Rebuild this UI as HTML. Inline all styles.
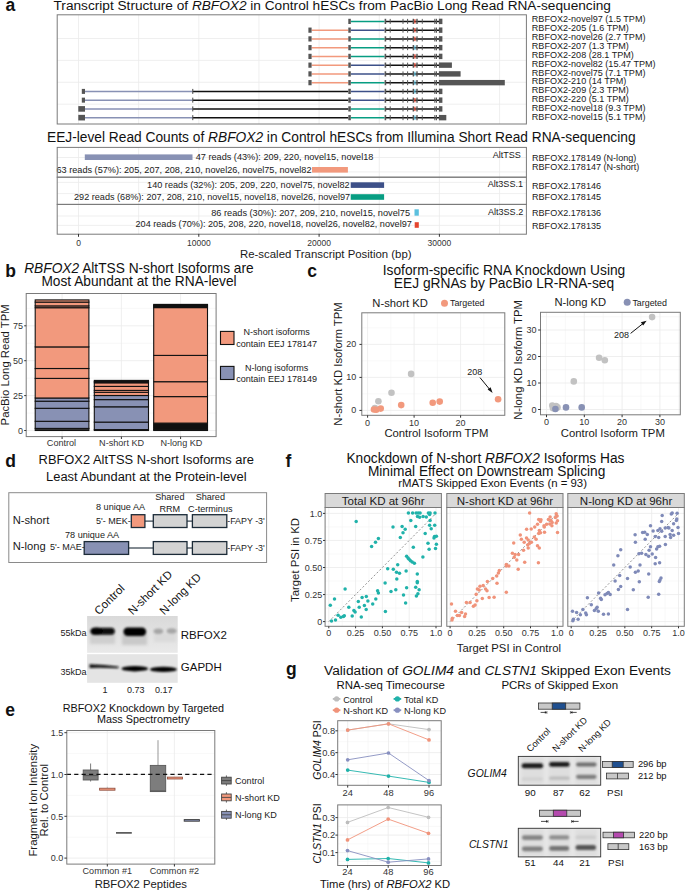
<!DOCTYPE html>
<html><head><meta charset="utf-8"><style>html,body{margin:0;padding:0;background:#fff;}svg{display:block;font-family:"Liberation Sans",sans-serif;}</style></head><body>
<svg width="685" height="891" viewBox="0 0 685 891">
<rect width="685" height="891" fill="#fff"/>
<text x="5.4" y="11" font-size="17.5" fill="#111" font-weight="bold">a</text>
<text x="53.5" y="10.3" font-size="13.66" fill="#111">Transcript Structure of <tspan font-style="italic">RBFOX2</tspan> in Control hESCs from PacBio Long Read RNA-sequencing</text>
<rect x="57.2" y="14.8" width="469.2" height="109.2" fill="#fff"/>
<line x1="78.5" y1="14.8" x2="78.5" y2="124" stroke="#ebebeb" stroke-width="0.8"/>
<line x1="138.65" y1="14.8" x2="138.65" y2="124" stroke="#ebebeb" stroke-width="0.8"/>
<line x1="198.8" y1="14.8" x2="198.8" y2="124" stroke="#ebebeb" stroke-width="0.8"/>
<line x1="258.95" y1="14.8" x2="258.95" y2="124" stroke="#ebebeb" stroke-width="0.8"/>
<line x1="319.1" y1="14.8" x2="319.1" y2="124" stroke="#ebebeb" stroke-width="0.8"/>
<line x1="379.25" y1="14.8" x2="379.25" y2="124" stroke="#ebebeb" stroke-width="0.8"/>
<line x1="439.4" y1="14.8" x2="439.4" y2="124" stroke="#ebebeb" stroke-width="0.8"/>
<line x1="499.55" y1="14.8" x2="499.55" y2="124" stroke="#ebebeb" stroke-width="0.8"/>
<line x1="57.2" y1="38.5" x2="526.4" y2="38.5" stroke="#ebebeb" stroke-width="0.8"/>
<line x1="57.2" y1="60.4" x2="526.4" y2="60.4" stroke="#ebebeb" stroke-width="0.8"/>
<line x1="57.2" y1="82.3" x2="526.4" y2="82.3" stroke="#ebebeb" stroke-width="0.8"/>
<line x1="57.2" y1="104.2" x2="526.4" y2="104.2" stroke="#ebebeb" stroke-width="0.8"/>
<line x1="350.8" y1="21.4" x2="384.6" y2="21.4" stroke="#079d82" stroke-width="1.5"/>
<line x1="386" y1="21.4" x2="439" y2="21.4" stroke="#111" stroke-width="1.5"/>
<rect x="348.3" y="18.8" width="2.5" height="5.2" fill="#555"/>
<rect x="384.6" y="18.8" width="1.6" height="5.2" fill="#555"/>
<rect x="389.7" y="18.9" width="1" height="5" fill="#555"/>
<rect x="402.5" y="18.9" width="1" height="5" fill="#555"/>
<rect x="407.1" y="18.9" width="1" height="5" fill="#555"/>
<rect x="412.6" y="18.8" width="1.4" height="5.2" fill="#555"/>
<rect x="414.3" y="19.2" width="1.2" height="4.4" fill="#e5452f"/>
<rect x="416.3" y="18.8" width="1.4" height="5.2" fill="#555"/>
<rect x="421.8" y="18.9" width="0.9" height="5" fill="#555"/>
<rect x="434.3" y="18.8" width="1.1" height="5.2" fill="#555"/>
<rect x="435.9" y="18.8" width="1.1" height="5.2" fill="#555"/>
<rect x="438.9" y="18.7" width="3.5" height="5.4" fill="#555"/>
<line x1="311.6" y1="30.15" x2="348.3" y2="30.15" stroke="#f2997d" stroke-width="1.5"/>
<line x1="350.8" y1="30.15" x2="384.6" y2="30.15" stroke="#3d5088" stroke-width="1.5"/>
<line x1="386" y1="30.15" x2="439" y2="30.15" stroke="#111" stroke-width="1.5"/>
<rect x="308.4" y="27.55" width="3.2" height="5.2" fill="#555"/>
<rect x="348.3" y="27.55" width="2.5" height="5.2" fill="#555"/>
<rect x="384.6" y="27.55" width="1.6" height="5.2" fill="#555"/>
<rect x="389.7" y="27.65" width="1" height="5" fill="#555"/>
<rect x="402.5" y="27.65" width="1" height="5" fill="#555"/>
<rect x="407.1" y="27.65" width="1" height="5" fill="#555"/>
<rect x="412.6" y="27.55" width="1.4" height="5.2" fill="#555"/>
<rect x="414.3" y="27.95" width="1.2" height="4.4" fill="#e5452f"/>
<rect x="416.3" y="27.55" width="1.4" height="5.2" fill="#555"/>
<rect x="421.8" y="27.65" width="0.9" height="5" fill="#555"/>
<rect x="434.3" y="27.55" width="1.1" height="5.2" fill="#555"/>
<rect x="435.9" y="27.55" width="1.1" height="5.2" fill="#555"/>
<rect x="438.9" y="27.45" width="3.5" height="5.4" fill="#555"/>
<line x1="311.6" y1="38.9" x2="348.3" y2="38.9" stroke="#f2997d" stroke-width="1.5"/>
<line x1="350.8" y1="38.9" x2="384.6" y2="38.9" stroke="#079d82" stroke-width="1.5"/>
<line x1="386" y1="38.9" x2="439" y2="38.9" stroke="#111" stroke-width="1.5"/>
<rect x="308.4" y="36.3" width="3.2" height="5.2" fill="#555"/>
<rect x="348.3" y="36.3" width="2.5" height="5.2" fill="#555"/>
<rect x="384.6" y="36.3" width="1.6" height="5.2" fill="#555"/>
<rect x="389.7" y="36.4" width="1" height="5" fill="#555"/>
<rect x="402.5" y="36.4" width="1" height="5" fill="#555"/>
<rect x="407.1" y="36.4" width="1" height="5" fill="#555"/>
<rect x="412.6" y="36.3" width="1.4" height="5.2" fill="#555"/>
<rect x="414.3" y="36.7" width="1.2" height="4.4" fill="#e5452f"/>
<rect x="416.3" y="36.3" width="1.4" height="5.2" fill="#555"/>
<rect x="421.8" y="36.4" width="0.9" height="5" fill="#555"/>
<rect x="434.3" y="36.3" width="1.1" height="5.2" fill="#555"/>
<rect x="435.9" y="36.3" width="1.1" height="5.2" fill="#555"/>
<rect x="438.9" y="36.2" width="3.5" height="5.4" fill="#555"/>
<line x1="311.6" y1="47.65" x2="348.3" y2="47.65" stroke="#f2997d" stroke-width="1.5"/>
<line x1="350.8" y1="47.65" x2="384.6" y2="47.65" stroke="#079d82" stroke-width="1.5"/>
<line x1="386" y1="47.65" x2="439" y2="47.65" stroke="#111" stroke-width="1.5"/>
<rect x="308.4" y="45.05" width="3.2" height="5.2" fill="#555"/>
<rect x="348.3" y="45.05" width="2.5" height="5.2" fill="#555"/>
<rect x="384.6" y="45.05" width="1.6" height="5.2" fill="#555"/>
<rect x="389.7" y="45.15" width="1" height="5" fill="#555"/>
<rect x="402.5" y="45.15" width="1" height="5" fill="#555"/>
<rect x="407.1" y="45.15" width="1" height="5" fill="#555"/>
<rect x="412.6" y="45.05" width="1.4" height="5.2" fill="#555"/>
<rect x="414.3" y="45.45" width="1.2" height="4.4" fill="#5bc0de"/>
<rect x="416.3" y="45.05" width="1.4" height="5.2" fill="#555"/>
<rect x="421.8" y="45.15" width="0.9" height="5" fill="#555"/>
<rect x="434.3" y="45.05" width="1.1" height="5.2" fill="#555"/>
<rect x="435.9" y="45.05" width="1.1" height="5.2" fill="#555"/>
<rect x="438.9" y="44.95" width="3.5" height="5.4" fill="#555"/>
<line x1="311.6" y1="56.4" x2="348.3" y2="56.4" stroke="#f2997d" stroke-width="1.5"/>
<line x1="350.8" y1="56.4" x2="384.6" y2="56.4" stroke="#079d82" stroke-width="1.5"/>
<line x1="386" y1="56.4" x2="439" y2="56.4" stroke="#111" stroke-width="1.5"/>
<rect x="308.4" y="53.8" width="3.2" height="5.2" fill="#555"/>
<rect x="348.3" y="53.8" width="2.5" height="5.2" fill="#555"/>
<rect x="384.6" y="53.8" width="1.6" height="5.2" fill="#555"/>
<rect x="389.7" y="53.9" width="1" height="5" fill="#555"/>
<rect x="402.5" y="53.9" width="1" height="5" fill="#555"/>
<rect x="407.1" y="53.9" width="1" height="5" fill="#555"/>
<rect x="412.6" y="53.8" width="1.4" height="5.2" fill="#555"/>
<rect x="414.3" y="54.2" width="1.2" height="4.4" fill="#e5452f"/>
<rect x="416.3" y="53.8" width="1.4" height="5.2" fill="#555"/>
<rect x="421.8" y="53.9" width="0.9" height="5" fill="#555"/>
<rect x="434.3" y="53.8" width="1.1" height="5.2" fill="#555"/>
<rect x="435.9" y="53.8" width="1.1" height="5.2" fill="#555"/>
<rect x="438.9" y="53.7" width="3.5" height="5.4" fill="#555"/>
<line x1="311.6" y1="65.15" x2="348.3" y2="65.15" stroke="#f2997d" stroke-width="1.5"/>
<line x1="350.8" y1="65.15" x2="384.6" y2="65.15" stroke="#3d5088" stroke-width="1.5"/>
<line x1="386" y1="65.15" x2="439" y2="65.15" stroke="#111" stroke-width="1.5"/>
<rect x="308.4" y="62.55" width="3.2" height="5.2" fill="#555"/>
<rect x="348.3" y="62.55" width="2.5" height="5.2" fill="#555"/>
<rect x="384.6" y="62.55" width="1.6" height="5.2" fill="#555"/>
<rect x="389.7" y="62.65" width="1" height="5" fill="#555"/>
<rect x="402.5" y="62.65" width="1" height="5" fill="#555"/>
<rect x="407.1" y="62.65" width="1" height="5" fill="#555"/>
<rect x="412.6" y="62.55" width="1.4" height="5.2" fill="#555"/>
<rect x="414.3" y="62.95" width="1.2" height="4.4" fill="#e5452f"/>
<rect x="416.3" y="62.55" width="1.4" height="5.2" fill="#555"/>
<rect x="421.8" y="62.65" width="0.9" height="5" fill="#555"/>
<rect x="434.3" y="62.55" width="1.1" height="5.2" fill="#555"/>
<rect x="435.9" y="62.55" width="1.1" height="5.2" fill="#555"/>
<rect x="438.9" y="62.45" width="13" height="5.4" fill="#555"/>
<line x1="311.6" y1="73.9" x2="348.3" y2="73.9" stroke="#f2997d" stroke-width="1.5"/>
<line x1="350.8" y1="73.9" x2="384.6" y2="73.9" stroke="#3d5088" stroke-width="1.5"/>
<line x1="386" y1="73.9" x2="439" y2="73.9" stroke="#111" stroke-width="1.5"/>
<rect x="308.4" y="71.3" width="3.2" height="5.2" fill="#555"/>
<rect x="348.3" y="71.3" width="2.5" height="5.2" fill="#555"/>
<rect x="384.6" y="71.3" width="1.6" height="5.2" fill="#555"/>
<rect x="389.7" y="71.4" width="1" height="5" fill="#555"/>
<rect x="402.5" y="71.4" width="1" height="5" fill="#555"/>
<rect x="407.1" y="71.4" width="1" height="5" fill="#555"/>
<rect x="412.6" y="71.3" width="1.4" height="5.2" fill="#555"/>
<rect x="414.3" y="71.7" width="1.2" height="4.4" fill="#5bc0de"/>
<rect x="416.3" y="71.3" width="1.4" height="5.2" fill="#555"/>
<rect x="421.8" y="71.4" width="0.9" height="5" fill="#555"/>
<rect x="434.3" y="71.3" width="1.1" height="5.2" fill="#555"/>
<rect x="435.9" y="71.3" width="1.1" height="5.2" fill="#555"/>
<rect x="438.9" y="71.2" width="21.7" height="5.4" fill="#555"/>
<line x1="311.6" y1="82.65" x2="348.3" y2="82.65" stroke="#f2997d" stroke-width="1.5"/>
<line x1="350.8" y1="82.65" x2="384.6" y2="82.65" stroke="#079d82" stroke-width="1.5"/>
<line x1="386" y1="82.65" x2="439" y2="82.65" stroke="#111" stroke-width="1.5"/>
<rect x="308.4" y="80.05" width="3.2" height="5.2" fill="#555"/>
<rect x="348.3" y="80.05" width="2.5" height="5.2" fill="#555"/>
<rect x="384.6" y="80.05" width="1.6" height="5.2" fill="#555"/>
<rect x="389.7" y="80.15" width="1" height="5" fill="#555"/>
<rect x="402.5" y="80.15" width="1" height="5" fill="#555"/>
<rect x="407.1" y="80.15" width="1" height="5" fill="#555"/>
<rect x="412.6" y="80.05" width="1.4" height="5.2" fill="#555"/>
<rect x="414.3" y="80.45" width="1.2" height="4.4" fill="#5bc0de"/>
<rect x="416.3" y="80.05" width="1.4" height="5.2" fill="#555"/>
<rect x="421.8" y="80.15" width="0.9" height="5" fill="#555"/>
<rect x="434.3" y="80.05" width="1.1" height="5.2" fill="#555"/>
<rect x="435.9" y="80.05" width="1.1" height="5.2" fill="#555"/>
<rect x="438.9" y="79.95" width="65.9" height="5.4" fill="#555"/>
<line x1="85" y1="91.4" x2="192.6" y2="91.4" stroke="#8891b4" stroke-width="1.5"/>
<line x1="192.6" y1="91.4" x2="348.3" y2="91.4" stroke="#111" stroke-width="1.5"/>
<line x1="350.8" y1="91.4" x2="384.6" y2="91.4" stroke="#3d5088" stroke-width="1.5"/>
<line x1="386" y1="91.4" x2="439" y2="91.4" stroke="#111" stroke-width="1.5"/>
<rect x="81.8" y="88.9" width="3.2" height="5" fill="#555"/>
<rect x="192.2" y="88.9" width="1.1" height="5" fill="#555"/>
<rect x="348.3" y="88.8" width="2.5" height="5.2" fill="#555"/>
<rect x="384.6" y="88.8" width="1.6" height="5.2" fill="#555"/>
<rect x="389.7" y="88.9" width="1" height="5" fill="#555"/>
<rect x="402.5" y="88.9" width="1" height="5" fill="#555"/>
<rect x="407.1" y="88.9" width="1" height="5" fill="#555"/>
<rect x="412.6" y="88.8" width="1.4" height="5.2" fill="#555"/>
<rect x="414.3" y="89.2" width="1.2" height="4.4" fill="#5bc0de"/>
<rect x="416.3" y="88.8" width="1.4" height="5.2" fill="#555"/>
<rect x="421.8" y="88.9" width="0.9" height="5" fill="#555"/>
<rect x="434.3" y="88.8" width="1.1" height="5.2" fill="#555"/>
<rect x="435.9" y="88.8" width="1.1" height="5.2" fill="#555"/>
<rect x="438.9" y="88.7" width="3.5" height="5.4" fill="#555"/>
<line x1="85" y1="100.15" x2="192.6" y2="100.15" stroke="#8891b4" stroke-width="1.5"/>
<line x1="192.6" y1="100.15" x2="348.3" y2="100.15" stroke="#111" stroke-width="1.5"/>
<line x1="350.8" y1="100.15" x2="384.6" y2="100.15" stroke="#3d5088" stroke-width="1.5"/>
<line x1="386" y1="100.15" x2="439" y2="100.15" stroke="#111" stroke-width="1.5"/>
<rect x="81.8" y="97.65" width="3.2" height="5" fill="#555"/>
<rect x="192.2" y="97.65" width="1.1" height="5" fill="#555"/>
<rect x="348.3" y="97.55" width="2.5" height="5.2" fill="#555"/>
<rect x="384.6" y="97.55" width="1.6" height="5.2" fill="#555"/>
<rect x="389.7" y="97.65" width="1" height="5" fill="#555"/>
<rect x="402.5" y="97.65" width="1" height="5" fill="#555"/>
<rect x="407.1" y="97.65" width="1" height="5" fill="#555"/>
<rect x="412.6" y="97.55" width="1.4" height="5.2" fill="#555"/>
<rect x="414.3" y="97.95" width="1.2" height="4.4" fill="#e5452f"/>
<rect x="416.3" y="97.55" width="1.4" height="5.2" fill="#555"/>
<rect x="421.8" y="97.65" width="0.9" height="5" fill="#555"/>
<rect x="434.3" y="97.55" width="1.1" height="5.2" fill="#555"/>
<rect x="435.9" y="97.55" width="1.1" height="5.2" fill="#555"/>
<rect x="438.9" y="97.45" width="3.5" height="5.4" fill="#555"/>
<line x1="85" y1="108.9" x2="192.6" y2="108.9" stroke="#8891b4" stroke-width="1.5"/>
<line x1="192.6" y1="108.9" x2="348.3" y2="108.9" stroke="#111" stroke-width="1.5"/>
<line x1="350.8" y1="108.9" x2="384.6" y2="108.9" stroke="#079d82" stroke-width="1.5"/>
<line x1="386" y1="108.9" x2="439" y2="108.9" stroke="#111" stroke-width="1.5"/>
<rect x="78.3" y="106.1" width="6.7" height="5.6" fill="#555"/>
<rect x="192.2" y="106.4" width="1.1" height="5" fill="#555"/>
<rect x="348.3" y="106.3" width="2.5" height="5.2" fill="#555"/>
<rect x="384.6" y="106.3" width="1.6" height="5.2" fill="#555"/>
<rect x="389.7" y="106.4" width="1" height="5" fill="#555"/>
<rect x="402.5" y="106.4" width="1" height="5" fill="#555"/>
<rect x="407.1" y="106.4" width="1" height="5" fill="#555"/>
<rect x="412.6" y="106.3" width="1.4" height="5.2" fill="#555"/>
<rect x="414.3" y="106.7" width="1.2" height="4.4" fill="#e5452f"/>
<rect x="416.3" y="106.3" width="1.4" height="5.2" fill="#555"/>
<rect x="421.8" y="106.4" width="0.9" height="5" fill="#555"/>
<rect x="434.3" y="106.3" width="1.1" height="5.2" fill="#555"/>
<rect x="435.9" y="106.3" width="1.1" height="5.2" fill="#555"/>
<rect x="438.9" y="106.2" width="3.5" height="5.4" fill="#555"/>
<line x1="85" y1="117.65" x2="192.6" y2="117.65" stroke="#8891b4" stroke-width="1.5"/>
<line x1="192.6" y1="117.65" x2="348.3" y2="117.65" stroke="#111" stroke-width="1.5"/>
<line x1="350.8" y1="117.65" x2="384.6" y2="117.65" stroke="#079d82" stroke-width="1.5"/>
<line x1="386" y1="117.65" x2="439" y2="117.65" stroke="#111" stroke-width="1.5"/>
<rect x="78.3" y="114.85" width="6.7" height="5.6" fill="#555"/>
<rect x="192.2" y="115.15" width="1.1" height="5" fill="#555"/>
<rect x="348.3" y="115.05" width="2.5" height="5.2" fill="#555"/>
<rect x="384.6" y="115.05" width="1.6" height="5.2" fill="#555"/>
<rect x="389.7" y="115.15" width="1" height="5" fill="#555"/>
<rect x="402.5" y="115.15" width="1" height="5" fill="#555"/>
<rect x="407.1" y="115.15" width="1" height="5" fill="#555"/>
<rect x="412.6" y="115.05" width="1.4" height="5.2" fill="#555"/>
<rect x="414.3" y="115.45" width="1.2" height="4.4" fill="#5bc0de"/>
<rect x="416.3" y="115.05" width="1.4" height="5.2" fill="#555"/>
<rect x="421.8" y="115.15" width="0.9" height="5" fill="#555"/>
<rect x="434.3" y="115.05" width="1.1" height="5.2" fill="#555"/>
<rect x="435.9" y="115.05" width="1.1" height="5.2" fill="#555"/>
<rect x="438.9" y="114.95" width="7.4" height="5.4" fill="#555"/>
<rect x="57.2" y="14.8" width="469.2" height="109.2" fill="none" stroke="#7a7a7a" stroke-width="1"/>
<text x="531.8" y="21.8" font-size="9.07" fill="#1a1a1a">RBFOX2-novel97 (1.5 TPM)</text>
<text x="531.8" y="30.75" font-size="9.07" fill="#1a1a1a">RBFOX2-205 (1.6 TPM)</text>
<text x="531.8" y="39.7" font-size="9.07" fill="#1a1a1a">RBFOX2-novel26 (2.7 TPM)</text>
<text x="531.8" y="48.65" font-size="9.07" fill="#1a1a1a">RBFOX2-207 (1.3 TPM)</text>
<text x="531.8" y="57.6" font-size="9.07" fill="#1a1a1a">RBFOX2-208 (28.1 TPM)</text>
<text x="531.8" y="66.55" font-size="9.07" fill="#1a1a1a">RBFOX2-novel82 (15.47 TPM)</text>
<text x="531.8" y="75.5" font-size="9.07" fill="#1a1a1a">RBFOX2-novel75 (7.1 TPM)</text>
<text x="531.8" y="84.45" font-size="9.07" fill="#1a1a1a">RBFOX2-210 (14 TPM)</text>
<text x="531.8" y="93.4" font-size="9.07" fill="#1a1a1a">RBFOX2-209 (2.3 TPM)</text>
<text x="531.8" y="102.35" font-size="9.07" fill="#1a1a1a">RBFOX2-220 (5.1 TPM)</text>
<text x="531.8" y="111.3" font-size="9.07" fill="#1a1a1a">RBFOX2-novel18 (9.3 TPM)</text>
<text x="531.8" y="120.25" font-size="9.07" fill="#1a1a1a">RBFOX2-novel15 (5.1 TPM)</text>
<text x="47" y="142" font-size="13.74" fill="#111">EEJ-level Read Counts of <tspan font-style="italic">RBFOX2</tspan> in Control hESCs from Illumina Short Read RNA-sequencing</text>
<rect x="57.2" y="147.4" width="469.2" height="29.8" fill="#fff"/>
<line x1="78.5" y1="147.4" x2="78.5" y2="177.2" stroke="#ebebeb" stroke-width="0.8"/>
<line x1="138.65" y1="147.4" x2="138.65" y2="177.2" stroke="#ebebeb" stroke-width="0.8"/>
<line x1="198.8" y1="147.4" x2="198.8" y2="177.2" stroke="#ebebeb" stroke-width="0.8"/>
<line x1="258.95" y1="147.4" x2="258.95" y2="177.2" stroke="#ebebeb" stroke-width="0.8"/>
<line x1="319.1" y1="147.4" x2="319.1" y2="177.2" stroke="#ebebeb" stroke-width="0.8"/>
<line x1="379.25" y1="147.4" x2="379.25" y2="177.2" stroke="#ebebeb" stroke-width="0.8"/>
<line x1="439.4" y1="147.4" x2="439.4" y2="177.2" stroke="#ebebeb" stroke-width="0.8"/>
<line x1="499.55" y1="147.4" x2="499.55" y2="177.2" stroke="#ebebeb" stroke-width="0.8"/>
<rect x="57.2" y="177.2" width="469.2" height="27.2" fill="#fff"/>
<line x1="78.5" y1="177.2" x2="78.5" y2="204.4" stroke="#ebebeb" stroke-width="0.8"/>
<line x1="138.65" y1="177.2" x2="138.65" y2="204.4" stroke="#ebebeb" stroke-width="0.8"/>
<line x1="198.8" y1="177.2" x2="198.8" y2="204.4" stroke="#ebebeb" stroke-width="0.8"/>
<line x1="258.95" y1="177.2" x2="258.95" y2="204.4" stroke="#ebebeb" stroke-width="0.8"/>
<line x1="319.1" y1="177.2" x2="319.1" y2="204.4" stroke="#ebebeb" stroke-width="0.8"/>
<line x1="379.25" y1="177.2" x2="379.25" y2="204.4" stroke="#ebebeb" stroke-width="0.8"/>
<line x1="439.4" y1="177.2" x2="439.4" y2="204.4" stroke="#ebebeb" stroke-width="0.8"/>
<line x1="499.55" y1="177.2" x2="499.55" y2="204.4" stroke="#ebebeb" stroke-width="0.8"/>
<rect x="57.2" y="204.4" width="469.2" height="29.8" fill="#fff"/>
<line x1="78.5" y1="204.4" x2="78.5" y2="234.2" stroke="#ebebeb" stroke-width="0.8"/>
<line x1="138.65" y1="204.4" x2="138.65" y2="234.2" stroke="#ebebeb" stroke-width="0.8"/>
<line x1="198.8" y1="204.4" x2="198.8" y2="234.2" stroke="#ebebeb" stroke-width="0.8"/>
<line x1="258.95" y1="204.4" x2="258.95" y2="234.2" stroke="#ebebeb" stroke-width="0.8"/>
<line x1="319.1" y1="204.4" x2="319.1" y2="234.2" stroke="#ebebeb" stroke-width="0.8"/>
<line x1="379.25" y1="204.4" x2="379.25" y2="234.2" stroke="#ebebeb" stroke-width="0.8"/>
<line x1="439.4" y1="204.4" x2="439.4" y2="234.2" stroke="#ebebeb" stroke-width="0.8"/>
<line x1="499.55" y1="204.4" x2="499.55" y2="234.2" stroke="#ebebeb" stroke-width="0.8"/>
<line x1="57.2" y1="157.5" x2="526.4" y2="157.5" stroke="#ebebeb" stroke-width="0.8"/>
<line x1="57.2" y1="171.9" x2="526.4" y2="171.9" stroke="#ebebeb" stroke-width="0.8"/>
<line x1="57.2" y1="182.4" x2="526.4" y2="182.4" stroke="#ebebeb" stroke-width="0.8"/>
<line x1="57.2" y1="193.6" x2="526.4" y2="193.6" stroke="#ebebeb" stroke-width="0.8"/>
<line x1="57.2" y1="216" x2="526.4" y2="216" stroke="#ebebeb" stroke-width="0.8"/>
<line x1="57.2" y1="225.4" x2="526.4" y2="225.4" stroke="#ebebeb" stroke-width="0.8"/>
<rect x="84.8" y="154.4" width="107.7" height="5.6" fill="#8891b4"/>
<rect x="312" y="167" width="35.9" height="5.6" fill="#f2997d"/>
<rect x="350.7" y="182.3" width="33.4" height="5.6" fill="#3d5088"/>
<rect x="350.7" y="194.2" width="33.4" height="5.6" fill="#079d82"/>
<rect x="414.5" y="209.3" width="4.3" height="6.4" fill="#5bc0de"/>
<rect x="414.7" y="222.2" width="4.1" height="5.6" fill="#e5452f"/>
<text x="195.7" y="160.1" font-size="9.07" fill="#1a1a1a" textLength="177.7" lengthAdjust="spacingAndGlyphs">47 reads (43%): 209, 220, novel15, novel18</text>
<text x="56.5" y="172.6" font-size="9.07" fill="#1a1a1a" textLength="255" lengthAdjust="spacingAndGlyphs">63 reads (57%): 205, 207, 208, 210, novel26, novel75, novel82</text>
<text x="147.1" y="187.7" font-size="9.07" fill="#1a1a1a" textLength="202.5" lengthAdjust="spacingAndGlyphs">140 reads (32%): 205, 209, 220, novel75, novel82</text>
<text x="74" y="200" font-size="9.07" fill="#1a1a1a" textLength="276.1" lengthAdjust="spacingAndGlyphs">292 reads (68%): 207, 208, 210, novel15, novel18, novel26, novel97</text>
<text x="211.2" y="215.6" font-size="9.07" fill="#1a1a1a" textLength="198.9" lengthAdjust="spacingAndGlyphs">86 reads (30%): 207, 209, 210, novel15, novel75</text>
<text x="135.5" y="227.3" font-size="9.07" fill="#1a1a1a" textLength="276.3" lengthAdjust="spacingAndGlyphs">204 reads (70%): 205, 208, 220, novel18, novel26, novel82, novel97</text>
<rect x="57.2" y="147.4" width="469.2" height="29.8" fill="none" stroke="#7a7a7a" stroke-width="1"/>
<text x="520.9" y="157.7" font-size="9.07" fill="#1a1a1a" text-anchor="end">AltTSS</text>
<rect x="57.2" y="177.2" width="469.2" height="27.2" fill="none" stroke="#7a7a7a" stroke-width="1"/>
<text x="523" y="186.8" font-size="9.07" fill="#1a1a1a" text-anchor="end">Alt3SS.1</text>
<rect x="57.2" y="204.4" width="469.2" height="29.8" fill="none" stroke="#7a7a7a" stroke-width="1"/>
<text x="523.2" y="214.5" font-size="9.07" fill="#1a1a1a" text-anchor="end">Alt3SS.2</text>
<line x1="78.5" y1="233.9" x2="78.5" y2="236.8" stroke="#333" stroke-width="1"/>
<text x="78.5" y="246.4" font-size="8.5" fill="#333" text-anchor="middle">0</text>
<line x1="198.8" y1="233.9" x2="198.8" y2="236.8" stroke="#333" stroke-width="1"/>
<text x="198.8" y="246.4" font-size="8.5" fill="#333" text-anchor="middle">10000</text>
<line x1="319.1" y1="233.9" x2="319.1" y2="236.8" stroke="#333" stroke-width="1"/>
<text x="319.1" y="246.4" font-size="8.5" fill="#333" text-anchor="middle">20000</text>
<line x1="439.4" y1="233.9" x2="439.4" y2="236.8" stroke="#333" stroke-width="1"/>
<text x="439.4" y="246.4" font-size="8.5" fill="#333" text-anchor="middle">30000</text>
<text x="325.8" y="257.8" font-size="11.4" fill="#1a1a1a" text-anchor="middle">Re-scaled Transcript Position (bp)</text>
<text x="532" y="161" font-size="9.07" fill="#1a1a1a">RBFOX2.178149 (N-long)</text>
<text x="532" y="170.2" font-size="9.07" fill="#1a1a1a">RBFOX2.178147 (N-short)</text>
<text x="532" y="189.1" font-size="9.07" fill="#1a1a1a">RBFOX2.178146</text>
<text x="532" y="199.6" font-size="9.07" fill="#1a1a1a">RBFOX2.178145</text>
<text x="532" y="216.2" font-size="9.07" fill="#1a1a1a">RBFOX2.178136</text>
<text x="532" y="228.8" font-size="9.07" fill="#1a1a1a">RBFOX2.178135</text>
<text x="5.3" y="277.4" font-size="17.5" fill="#111" font-weight="bold">b</text>
<text x="24.2" y="272.9" font-size="13.72" fill="#111"><tspan font-style="italic">RBFOX2</tspan> AltTSS N-short Isoforms are</text>
<text x="139" y="286" font-size="13.72" fill="#111" text-anchor="middle">Most Abundant at the RNA-level</text>
<rect x="26.2" y="293.5" width="189.9" height="143.1" fill="#fff"/>
<line x1="26.2" y1="413.05" x2="216.1" y2="413.05" stroke="#f2f2f2" stroke-width="0.6"/>
<line x1="26.2" y1="378.15" x2="216.1" y2="378.15" stroke="#f2f2f2" stroke-width="0.6"/>
<line x1="26.2" y1="343.25" x2="216.1" y2="343.25" stroke="#f2f2f2" stroke-width="0.6"/>
<line x1="26.2" y1="308.35" x2="216.1" y2="308.35" stroke="#f2f2f2" stroke-width="0.6"/>
<line x1="26.2" y1="430.5" x2="216.1" y2="430.5" stroke="#ebebeb" stroke-width="0.8"/>
<line x1="26.2" y1="395.6" x2="216.1" y2="395.6" stroke="#ebebeb" stroke-width="0.8"/>
<line x1="26.2" y1="360.7" x2="216.1" y2="360.7" stroke="#ebebeb" stroke-width="0.8"/>
<line x1="26.2" y1="325.8" x2="216.1" y2="325.8" stroke="#ebebeb" stroke-width="0.8"/>
<line x1="62.1" y1="293.5" x2="62.1" y2="436.6" stroke="#ebebeb" stroke-width="0.8"/>
<line x1="121.4" y1="293.5" x2="121.4" y2="436.6" stroke="#ebebeb" stroke-width="0.8"/>
<line x1="180.6" y1="293.5" x2="180.6" y2="436.6" stroke="#ebebeb" stroke-width="0.8"/>
<rect x="35.2" y="428.4" width="53.7" height="2.1" fill="#333" stroke="#111" stroke-width="1.1"/>
<rect x="35.2" y="421.3" width="53.7" height="7.1" fill="#8891b4" stroke="#111" stroke-width="1.1"/>
<rect x="35.2" y="408.3" width="53.7" height="13" fill="#8891b4" stroke="#111" stroke-width="1.1"/>
<rect x="35.2" y="401.2" width="53.7" height="7.1" fill="#8891b4" stroke="#111" stroke-width="1.1"/>
<rect x="35.2" y="398" width="53.7" height="3.2" fill="#8891b4" stroke="#111" stroke-width="1.1"/>
<rect x="35.2" y="378.4" width="53.7" height="19.6" fill="#f2997d" stroke="#111" stroke-width="1.1"/>
<rect x="35.2" y="368.5" width="53.7" height="9.9" fill="#f2997d" stroke="#111" stroke-width="1.1"/>
<rect x="35.2" y="346.9" width="53.7" height="21.6" fill="#f2997d" stroke="#111" stroke-width="1.1"/>
<rect x="35.2" y="307.7" width="53.7" height="39.2" fill="#f2997d" stroke="#111" stroke-width="1.1"/>
<rect x="35.2" y="305.9" width="53.7" height="1.8" fill="#f2997d" stroke="#111" stroke-width="1.1"/>
<rect x="35.2" y="302.1" width="53.7" height="3.8" fill="#f2997d" stroke="#111" stroke-width="1.1"/>
<rect x="35.2" y="299.9" width="53.7" height="2.2" fill="#f2997d" stroke="#111" stroke-width="1.1"/>
<rect x="94.3" y="429.6" width="54.2" height="0.9" fill="#222" stroke="#111" stroke-width="1.1"/>
<rect x="94.3" y="422.1" width="54.2" height="7.5" fill="#8891b4" stroke="#111" stroke-width="1.1"/>
<rect x="94.3" y="406.8" width="54.2" height="15.3" fill="#8891b4" stroke="#111" stroke-width="1.1"/>
<rect x="94.3" y="399.6" width="54.2" height="7.2" fill="#8891b4" stroke="#111" stroke-width="1.1"/>
<rect x="94.3" y="395.5" width="54.2" height="4.1" fill="#8891b4" stroke="#111" stroke-width="1.1"/>
<rect x="94.3" y="392.3" width="54.2" height="3.2" fill="#f2997d" stroke="#111" stroke-width="1.1"/>
<rect x="94.3" y="390.4" width="54.2" height="1.9" fill="#f2997d" stroke="#111" stroke-width="1.1"/>
<rect x="94.3" y="386.4" width="54.2" height="4" fill="#f2997d" stroke="#111" stroke-width="1.1"/>
<rect x="94.3" y="382.8" width="54.2" height="3.6" fill="#f2997d" stroke="#111" stroke-width="1.1"/>
<rect x="94.3" y="381.6" width="54.2" height="1.2" fill="#222" stroke="#111" stroke-width="1.1"/>
<rect x="94.3" y="380.4" width="54.2" height="1.2" fill="#222" stroke="#111" stroke-width="1.1"/>
<rect x="153.7" y="429.2" width="53.8" height="1.3" fill="#444" stroke="#111" stroke-width="1.1"/>
<rect x="153.7" y="427" width="53.8" height="2.2" fill="#111" stroke="#111" stroke-width="1.1"/>
<rect x="153.7" y="425" width="53.8" height="2" fill="#111" stroke="#111" stroke-width="1.1"/>
<rect x="153.7" y="423.1" width="53.8" height="1.9" fill="#111" stroke="#111" stroke-width="1.1"/>
<rect x="153.7" y="396.6" width="53.8" height="26.5" fill="#f2997d" stroke="#111" stroke-width="1.1"/>
<rect x="153.7" y="381.7" width="53.8" height="14.9" fill="#f2997d" stroke="#111" stroke-width="1.1"/>
<rect x="153.7" y="355.4" width="53.8" height="26.3" fill="#f2997d" stroke="#111" stroke-width="1.1"/>
<rect x="153.7" y="307.6" width="53.8" height="47.8" fill="#f2997d" stroke="#111" stroke-width="1.1"/>
<rect x="153.7" y="306.4" width="53.8" height="1.2" fill="#111" stroke="#111" stroke-width="1.1"/>
<rect x="153.7" y="305.4" width="53.8" height="1" fill="#111" stroke="#111" stroke-width="1.1"/>
<rect x="153.7" y="304.4" width="53.8" height="1" fill="#111" stroke="#111" stroke-width="1.1"/>
<rect x="26.2" y="293.5" width="189.9" height="143.1" fill="none" stroke="#7a7a7a" stroke-width="1"/>
<line x1="24.2" y1="430.5" x2="26.2" y2="430.5" stroke="#333" stroke-width="1"/>
<text x="23" y="433.7" font-size="9" fill="#333" text-anchor="end">0</text>
<line x1="24.2" y1="395.6" x2="26.2" y2="395.6" stroke="#333" stroke-width="1"/>
<text x="23" y="398.8" font-size="9" fill="#333" text-anchor="end">25</text>
<line x1="24.2" y1="360.7" x2="26.2" y2="360.7" stroke="#333" stroke-width="1"/>
<text x="23" y="363.9" font-size="9" fill="#333" text-anchor="end">50</text>
<line x1="24.2" y1="325.8" x2="26.2" y2="325.8" stroke="#333" stroke-width="1"/>
<text x="23" y="329" font-size="9" fill="#333" text-anchor="end">75</text>
<line x1="62.1" y1="436.6" x2="62.1" y2="439" stroke="#333" stroke-width="1"/>
<text x="61.5" y="446" font-size="9.1" fill="#333" text-anchor="middle">Control</text>
<line x1="121.4" y1="436.6" x2="121.4" y2="439" stroke="#333" stroke-width="1"/>
<text x="121.6" y="446" font-size="9.1" fill="#333" text-anchor="middle">N-short KD</text>
<line x1="180.6" y1="436.6" x2="180.6" y2="439" stroke="#333" stroke-width="1"/>
<text x="181.4" y="446" font-size="9.1" fill="#333" text-anchor="middle">N-long KD</text>
<text x="9.3" y="364.9" font-size="11.3" fill="#1a1a1a" text-anchor="middle" transform="rotate(-90 9.3 364.9)">PacBio Long Read TPM</text>
<rect x="220.5" y="331.4" width="13.5" height="13.1" fill="#f2997d" stroke="#111" stroke-width="1.1"/>
<rect x="220.5" y="366.4" width="13.5" height="13.1" fill="#8891b4" stroke="#111" stroke-width="1.1"/>
<text x="276.7" y="335.4" font-size="9.04" fill="#1a1a1a" text-anchor="middle">N-short isoforms</text>
<text x="276.7" y="346.6" font-size="9.04" fill="#1a1a1a" text-anchor="middle">contain EEJ 178147</text>
<text x="276.7" y="370.5" font-size="9.04" fill="#1a1a1a" text-anchor="middle">N-long isoforms</text>
<text x="276.7" y="381.7" font-size="9.04" fill="#1a1a1a" text-anchor="middle">contain EEJ 178149</text>
<text x="307.2" y="277.4" font-size="17.5" fill="#111" font-weight="bold">c</text>
<text x="504" y="274.9" font-size="13.78" fill="#111" text-anchor="middle">Isoform-specific RNA Knockdown Using</text>
<text x="504" y="288" font-size="13.78" fill="#111" text-anchor="middle">EEJ gRNAs by PacBio LR-RNA-seq</text>
<rect x="361.8" y="312.8" width="143" height="102.5" fill="#fff"/>
<line x1="390.85" y1="312.8" x2="390.85" y2="415.3" stroke="#f3f3f3" stroke-width="0.6"/>
<line x1="437.35" y1="312.8" x2="437.35" y2="415.3" stroke="#f3f3f3" stroke-width="0.6"/>
<line x1="483.85" y1="312.8" x2="483.85" y2="415.3" stroke="#f3f3f3" stroke-width="0.6"/>
<line x1="361.8" y1="393.9" x2="504.8" y2="393.9" stroke="#f3f3f3" stroke-width="0.6"/>
<line x1="361.8" y1="360.9" x2="504.8" y2="360.9" stroke="#f3f3f3" stroke-width="0.6"/>
<line x1="361.8" y1="327.9" x2="504.8" y2="327.9" stroke="#f3f3f3" stroke-width="0.6"/>
<line x1="367.6" y1="312.8" x2="367.6" y2="415.3" stroke="#ebebeb" stroke-width="0.8"/>
<line x1="414.1" y1="312.8" x2="414.1" y2="415.3" stroke="#ebebeb" stroke-width="0.8"/>
<line x1="460.6" y1="312.8" x2="460.6" y2="415.3" stroke="#ebebeb" stroke-width="0.8"/>
<line x1="361.8" y1="410.4" x2="504.8" y2="410.4" stroke="#ebebeb" stroke-width="0.8"/>
<line x1="361.8" y1="377.4" x2="504.8" y2="377.4" stroke="#ebebeb" stroke-width="0.8"/>
<line x1="361.8" y1="344.4" x2="504.8" y2="344.4" stroke="#ebebeb" stroke-width="0.8"/>
<circle cx="374.9" cy="408" r="3.3" fill="#c2c2c2"/>
<circle cx="378.4" cy="401.3" r="3.3" fill="#c2c2c2"/>
<circle cx="391.5" cy="392.8" r="3.3" fill="#c2c2c2"/>
<circle cx="411.1" cy="373.9" r="3.3" fill="#c2c2c2"/>
<circle cx="374" cy="409.5" r="3.3" fill="#f2997d"/>
<circle cx="376.2" cy="409.8" r="3.3" fill="#f2997d"/>
<circle cx="380.7" cy="408.6" r="3.3" fill="#f2997d"/>
<circle cx="401.2" cy="405.1" r="3.3" fill="#f2997d"/>
<circle cx="432.7" cy="402.8" r="3.3" fill="#f2997d"/>
<circle cx="439.7" cy="401.6" r="3.3" fill="#f2997d"/>
<circle cx="498.1" cy="399.3" r="3.3" fill="#f2997d"/>
<rect x="361.8" y="312.8" width="143" height="102.5" fill="none" stroke="#7a7a7a" stroke-width="1"/>
<line x1="367.6" y1="415.3" x2="367.6" y2="417.7" stroke="#333" stroke-width="1"/>
<text x="367.6" y="425.8" font-size="9" fill="#333" text-anchor="middle">0</text>
<line x1="414.1" y1="415.3" x2="414.1" y2="417.7" stroke="#333" stroke-width="1"/>
<text x="414.1" y="425.8" font-size="9" fill="#333" text-anchor="middle">10</text>
<line x1="460.6" y1="415.3" x2="460.6" y2="417.7" stroke="#333" stroke-width="1"/>
<text x="460.6" y="425.8" font-size="9" fill="#333" text-anchor="middle">20</text>
<line x1="359.4" y1="410.4" x2="361.8" y2="410.4" stroke="#333" stroke-width="1"/>
<text x="356.3" y="412.8" font-size="9" fill="#333" text-anchor="end">0</text>
<line x1="359.4" y1="377.4" x2="361.8" y2="377.4" stroke="#333" stroke-width="1"/>
<text x="356.3" y="379.8" font-size="9" fill="#333" text-anchor="end">10</text>
<line x1="359.4" y1="344.4" x2="361.8" y2="344.4" stroke="#333" stroke-width="1"/>
<text x="356.3" y="346.8" font-size="9" fill="#333" text-anchor="end">20</text>
<text x="474.7" y="374.5" font-size="9" fill="#1a1a1a" text-anchor="middle">208</text>
<line x1="480" y1="377.6" x2="491" y2="391" stroke="#111" stroke-width="1"/>
<path d="M492.6,393 L487.6,389.6 L490.6,387.2 Z" fill="#111"/>
<text x="372.3" y="307.3" font-size="11.22" fill="#1a1a1a">N-short KD</text>
<circle cx="444.5" cy="303.2" r="3.5" fill="#f2997d"/>
<text x="450" y="306.4" font-size="8.9" fill="#1a1a1a">Targeted</text>
<text x="436.4" y="437.2" font-size="11.3" fill="#1a1a1a" text-anchor="middle">Control Isoform TPM</text>
<text x="341.6" y="364" font-size="11.3" fill="#1a1a1a" text-anchor="middle" transform="rotate(-90 341.6 364)">N-short KD Isoform TPM</text>
<rect x="540.5" y="312.3" width="139.8" height="102.5" fill="#fff"/>
<line x1="565.4" y1="312.3" x2="565.4" y2="414.8" stroke="#f3f3f3" stroke-width="0.6"/>
<line x1="603.2" y1="312.3" x2="603.2" y2="414.8" stroke="#f3f3f3" stroke-width="0.6"/>
<line x1="641" y1="312.3" x2="641" y2="414.8" stroke="#f3f3f3" stroke-width="0.6"/>
<line x1="678.8" y1="312.3" x2="678.8" y2="414.8" stroke="#f3f3f3" stroke-width="0.6"/>
<line x1="540.5" y1="396.25" x2="680.3" y2="396.25" stroke="#f3f3f3" stroke-width="0.6"/>
<line x1="540.5" y1="369.75" x2="680.3" y2="369.75" stroke="#f3f3f3" stroke-width="0.6"/>
<line x1="540.5" y1="343.25" x2="680.3" y2="343.25" stroke="#f3f3f3" stroke-width="0.6"/>
<line x1="540.5" y1="316.75" x2="680.3" y2="316.75" stroke="#f3f3f3" stroke-width="0.6"/>
<line x1="546.5" y1="312.3" x2="546.5" y2="414.8" stroke="#ebebeb" stroke-width="0.8"/>
<line x1="584.3" y1="312.3" x2="584.3" y2="414.8" stroke="#ebebeb" stroke-width="0.8"/>
<line x1="622.1" y1="312.3" x2="622.1" y2="414.8" stroke="#ebebeb" stroke-width="0.8"/>
<line x1="659.9" y1="312.3" x2="659.9" y2="414.8" stroke="#ebebeb" stroke-width="0.8"/>
<line x1="540.5" y1="409.5" x2="680.3" y2="409.5" stroke="#ebebeb" stroke-width="0.8"/>
<line x1="540.5" y1="383" x2="680.3" y2="383" stroke="#ebebeb" stroke-width="0.8"/>
<line x1="540.5" y1="356.5" x2="680.3" y2="356.5" stroke="#ebebeb" stroke-width="0.8"/>
<line x1="540.5" y1="330" x2="680.3" y2="330" stroke="#ebebeb" stroke-width="0.8"/>
<circle cx="652.1" cy="317.1" r="3.3" fill="#c2c2c2"/>
<circle cx="599.1" cy="357.8" r="3.3" fill="#c2c2c2"/>
<circle cx="604.8" cy="360.2" r="3.3" fill="#c2c2c2"/>
<circle cx="573.8" cy="381.4" r="3.3" fill="#c2c2c2"/>
<circle cx="552.3" cy="405.6" r="3.3" fill="#c2c2c2"/>
<circle cx="557.5" cy="407.4" r="3.3" fill="#c2c2c2"/>
<circle cx="553" cy="408.2" r="3.3" fill="#c2c2c2"/>
<circle cx="556" cy="406" r="3.3" fill="#c2c2c2"/>
<circle cx="555.4" cy="409" r="3.3" fill="#8891b4"/>
<circle cx="566" cy="407.4" r="3.3" fill="#8891b4"/>
<circle cx="581.7" cy="407.4" r="3.3" fill="#8891b4"/>
<rect x="540.5" y="312.3" width="139.8" height="102.5" fill="none" stroke="#7a7a7a" stroke-width="1"/>
<line x1="546.5" y1="414.8" x2="546.5" y2="417.2" stroke="#333" stroke-width="1"/>
<text x="546.5" y="425.3" font-size="9" fill="#333" text-anchor="middle">0</text>
<line x1="584.3" y1="414.8" x2="584.3" y2="417.2" stroke="#333" stroke-width="1"/>
<text x="584.3" y="425.3" font-size="9" fill="#333" text-anchor="middle">10</text>
<line x1="622.1" y1="414.8" x2="622.1" y2="417.2" stroke="#333" stroke-width="1"/>
<text x="622.1" y="425.3" font-size="9" fill="#333" text-anchor="middle">20</text>
<line x1="659.9" y1="414.8" x2="659.9" y2="417.2" stroke="#333" stroke-width="1"/>
<text x="659.9" y="425.3" font-size="9" fill="#333" text-anchor="middle">30</text>
<line x1="538.1" y1="409.5" x2="540.5" y2="409.5" stroke="#333" stroke-width="1"/>
<text x="536.6" y="412.5" font-size="9" fill="#333" text-anchor="end">0</text>
<line x1="538.1" y1="383" x2="540.5" y2="383" stroke="#333" stroke-width="1"/>
<text x="536.6" y="386" font-size="9" fill="#333" text-anchor="end">10</text>
<line x1="538.1" y1="356.5" x2="540.5" y2="356.5" stroke="#333" stroke-width="1"/>
<text x="536.6" y="359.5" font-size="9" fill="#333" text-anchor="end">20</text>
<line x1="538.1" y1="330" x2="540.5" y2="330" stroke="#333" stroke-width="1"/>
<text x="536.6" y="333" font-size="9" fill="#333" text-anchor="end">30</text>
<text x="621.5" y="337.8" font-size="9" fill="#1a1a1a" text-anchor="middle">208</text>
<line x1="630.6" y1="333.4" x2="644.5" y2="322.3" stroke="#111" stroke-width="1"/>
<path d="M646.6,320.8 L640.8,322.2 L643.2,325.4 Z" fill="#111"/>
<text x="554.4" y="306.3" font-size="11.22" fill="#1a1a1a">N-long KD</text>
<circle cx="627.2" cy="302.3" r="3.5" fill="#8891b4"/>
<text x="632.4" y="305.5" font-size="8.9" fill="#1a1a1a">Targeted</text>
<text x="612.8" y="437.1" font-size="11.3" fill="#1a1a1a" text-anchor="middle">Control Isoform TPM</text>
<text x="522" y="360" font-size="11.3" fill="#1a1a1a" text-anchor="middle" transform="rotate(-90 522 360)">N-long KD Isoform TPM</text>
<text x="5.3" y="466.5" font-size="17.5" fill="#111" font-weight="bold">d</text>
<text x="146.3" y="464.3" font-size="12.88" fill="#111" text-anchor="middle">RBFOX2 AltTSS N-short Isoforms are</text>
<text x="146.3" y="480.7" font-size="12.88" fill="#111" text-anchor="middle">Least Abundant at the Protein-level</text>
<rect x="8.8" y="492.7" width="257.8" height="69.8" fill="#fff" stroke="#8a8a8a" stroke-width="1"/>
<text x="12.7" y="523.6" font-size="11.2" fill="#1a1a1a">N-short</text>
<text x="12.7" y="550.1" font-size="11.2" fill="#1a1a1a">N-long</text>
<text x="96" y="510.3" font-size="9.1" fill="#1a1a1a">8 unique AA</text>
<text x="96" y="523.6" font-size="9.0" fill="#1a1a1a">5'- MEK-</text>
<text x="65" y="537.5" font-size="9.1" fill="#1a1a1a">78 unique AA</text>
<text x="50" y="550.1" font-size="9.0" fill="#1a1a1a">5'- MAE-</text>
<line x1="144.9" y1="521.1" x2="153.3" y2="521.1" stroke="#1c2b38" stroke-width="1.1"/>
<line x1="187" y1="521.1" x2="192.4" y2="521.1" stroke="#1c2b38" stroke-width="1.1"/>
<rect x="153.3" y="514.7" width="33.7" height="12.8" fill="#d3d3d3" stroke="#1c2b38" stroke-width="1.3"/>
<rect x="192.4" y="514.7" width="34.4" height="12.8" fill="#d3d3d3" stroke="#1c2b38" stroke-width="1.3"/>
<text x="227.2" y="524.2" font-size="8.9" fill="#1a1a1a">-FAPY -3'</text>
<line x1="128.6" y1="548" x2="153.3" y2="548" stroke="#1c2b38" stroke-width="1.1"/>
<line x1="187" y1="548" x2="192.4" y2="548" stroke="#1c2b38" stroke-width="1.1"/>
<rect x="153.3" y="541.6" width="33.7" height="12.8" fill="#d3d3d3" stroke="#1c2b38" stroke-width="1.3"/>
<rect x="192.4" y="541.6" width="34.4" height="12.8" fill="#d3d3d3" stroke="#1c2b38" stroke-width="1.3"/>
<text x="227.2" y="551.1" font-size="8.9" fill="#1a1a1a">-FAPY -3'</text>
<rect x="131.3" y="514.7" width="13.6" height="12.8" fill="#f2997d" stroke="#1c2b38" stroke-width="1.3"/>
<rect x="84.2" y="541.6" width="44.4" height="12.8" fill="#8891b4" stroke="#1c2b38" stroke-width="1.3"/>
<text x="169.8" y="500.4" font-size="9.1" fill="#1a1a1a" text-anchor="middle">Shared</text>
<text x="169.8" y="511.7" font-size="9.1" fill="#1a1a1a" text-anchor="middle">RRM</text>
<text x="210.3" y="500.4" font-size="9.1" fill="#1a1a1a" text-anchor="middle">Shared</text>
<text x="210.3" y="511.7" font-size="9.1" fill="#1a1a1a" text-anchor="middle">C-terminus</text>
<defs>
<filter id="bl1" x="-20%" y="-60%" width="140%" height="220%"><feGaussianBlur stdDeviation="1.2"/></filter>
<filter id="bl2" x="-20%" y="-60%" width="140%" height="220%"><feGaussianBlur stdDeviation="0.8"/></filter>
<filter id="bl3" x="-20%" y="-20%" width="140%" height="140%"><feGaussianBlur stdDeviation="1.5"/></filter>
<linearGradient id="wb1" x1="0" y1="0" x2="0" y2="1"><stop offset="0" stop-color="#d9d9d9"/><stop offset="0.5" stop-color="#e2e2e2"/><stop offset="1" stop-color="#e9e9e9"/></linearGradient>
<linearGradient id="gel" x1="0" y1="0" x2="0" y2="1"><stop offset="0" stop-color="#ececec"/><stop offset="1" stop-color="#f4f4f4"/></linearGradient>
</defs>
<rect x="87.1" y="616" width="90.6" height="36.8" fill="url(#wb1)"/>
<rect x="87.1" y="654.2" width="90.6" height="28.6" fill="#e4e4e4"/>
<g filter="url(#bl3)"><rect x="90" y="634" width="25" height="10" fill="#cfcfcf"/><rect x="122" y="634" width="25" height="11" fill="#c9c9c9"/><rect x="154" y="633" width="22" height="9" fill="#dadada"/></g>
<g filter="url(#bl1)"><rect x="90.6" y="627.8" width="24.2" height="7.0" rx="3.5" fill="#080808"/><ellipse cx="96.5" cy="631.2" rx="6" ry="3.8" fill="#000"/><rect x="123.4" y="627.4" width="22.8" height="8.6" rx="4.2" fill="#000"/><ellipse cx="158.4" cy="631.2" rx="4.8" ry="2.8" fill="#a6a6a6"/><ellipse cx="171.6" cy="631.0" rx="5.0" ry="2.8" fill="#a6a6a6"/></g>
<g filter="url(#bl2)"><path d="M89.5,664.2 Q104,664.6 118.5,666.6 L118.5,668.2 Q104,667.6 89.5,667.9 Z" fill="#111"/><ellipse cx="134.8" cy="668.7" rx="13.2" ry="2.7" fill="#050505"/><ellipse cx="163.4" cy="669.4" rx="13.4" ry="2.7" fill="#050505"/></g>
<text x="86.6" y="636.2" font-size="9.06" fill="#222" text-anchor="end">55kDa</text>
<text x="86.6" y="674.8" font-size="9.06" fill="#222" text-anchor="end">35kDa</text>
<text x="180.8" y="638.6" font-size="11.5" fill="#111">RBFOX2</text>
<text x="180.8" y="671.3" font-size="11.5" fill="#111">GAPDH</text>
<text x="104.9" y="693" font-size="9" fill="#222" text-anchor="middle">1</text>
<text x="135.7" y="693" font-size="9" fill="#222" text-anchor="middle">0.73</text>
<text x="163.8" y="693" font-size="9" fill="#222" text-anchor="middle">0.17</text>
<text x="99" y="615.4" font-size="11.5" fill="#111" transform="rotate(-45 99.0 615.4)">Control</text>
<text x="132.8" y="615.4" font-size="11.5" fill="#111" transform="rotate(-45 132.8 615.4)">N-short KD</text>
<text x="164.3" y="615.4" font-size="11.5" fill="#111" transform="rotate(-45 164.3 615.4)">N-long KD</text>
<text x="5.3" y="716.2" font-size="17.5" fill="#111" font-weight="bold">e</text>
<text x="143.4" y="712" font-size="10.8" fill="#111" text-anchor="middle">RBFOX2 Knockdown by Targeted</text>
<text x="143.4" y="723" font-size="10.8" fill="#111" text-anchor="middle">Mass Spectrometry</text>
<rect x="66.8" y="730.5" width="148" height="133.6" fill="#fff"/>
<line x1="66.8" y1="837.2" x2="214.8" y2="837.2" stroke="#f3f3f3" stroke-width="0.6"/>
<line x1="66.8" y1="795.4" x2="214.8" y2="795.4" stroke="#f3f3f3" stroke-width="0.6"/>
<line x1="66.8" y1="753.6" x2="214.8" y2="753.6" stroke="#f3f3f3" stroke-width="0.6"/>
<line x1="66.8" y1="858.1" x2="214.8" y2="858.1" stroke="#ebebeb" stroke-width="0.8"/>
<line x1="66.8" y1="816.3" x2="214.8" y2="816.3" stroke="#ebebeb" stroke-width="0.8"/>
<line x1="66.8" y1="774.5" x2="214.8" y2="774.5" stroke="#ebebeb" stroke-width="0.8"/>
<line x1="66.8" y1="732.7" x2="214.8" y2="732.7" stroke="#ebebeb" stroke-width="0.8"/>
<line x1="107.3" y1="730.5" x2="107.3" y2="864.1" stroke="#ebebeb" stroke-width="0.8"/>
<line x1="174.4" y1="730.5" x2="174.4" y2="864.1" stroke="#ebebeb" stroke-width="0.8"/>
<line x1="90.6" y1="763.5" x2="90.6" y2="770" stroke="#595959" stroke-width="0.8"/>
<line x1="90.6" y1="780" x2="90.6" y2="781.5" stroke="#595959" stroke-width="0.8"/>
<rect x="83.2" y="770" width="14.9" height="10" fill="#7d7d7d" stroke="#595959" stroke-width="0.9"/>
<line x1="83.2" y1="775.6" x2="98.1" y2="775.6" stroke="#555" stroke-width="1"/>
<rect x="99.6" y="788.2" width="15.4" height="2" fill="#f2997d" stroke="#8a4a3a" stroke-width="0.8"/>
<line x1="107.3" y1="786.8" x2="107.3" y2="788.2" stroke="#999" stroke-width="0.6"/>
<line x1="116" y1="832.9" x2="131.8" y2="832.9" stroke="#333" stroke-width="1.4"/>
<line x1="158" y1="740.2" x2="158" y2="765.4" stroke="#6a6a6a" stroke-width="0.7"/>
<rect x="150.3" y="765.4" width="15.4" height="26.2" fill="#7d7d7d" stroke="#595959" stroke-width="0.9"/>
<line x1="150.3" y1="791" x2="165.7" y2="791" stroke="#555" stroke-width="1"/>
<rect x="167.4" y="777.1" width="15.2" height="1.9" fill="#f2997d" stroke="#8a4a3a" stroke-width="0.8"/>
<rect x="184.2" y="819.6" width="15.2" height="1.6" fill="#8891b4" stroke="#3a3a3a" stroke-width="0.9"/>
<line x1="66.8" y1="774.4" x2="214.8" y2="774.4" stroke="#111" stroke-width="1.4" stroke-dasharray="4.2,3.2"/>
<rect x="66.8" y="730.5" width="148" height="133.6" fill="none" stroke="#7a7a7a" stroke-width="1"/>
<line x1="64.4" y1="858.1" x2="66.8" y2="858.1" stroke="#333" stroke-width="1"/>
<text x="63.3" y="861.3" font-size="9" fill="#333" text-anchor="end">0.0</text>
<line x1="64.4" y1="816.3" x2="66.8" y2="816.3" stroke="#333" stroke-width="1"/>
<text x="63.3" y="819.5" font-size="9" fill="#333" text-anchor="end">0.5</text>
<line x1="64.4" y1="774.5" x2="66.8" y2="774.5" stroke="#333" stroke-width="1"/>
<text x="63.3" y="777.7" font-size="9" fill="#333" text-anchor="end">1.0</text>
<line x1="64.4" y1="732.7" x2="66.8" y2="732.7" stroke="#333" stroke-width="1"/>
<text x="63.3" y="735.9" font-size="9" fill="#333" text-anchor="end">1.5</text>
<line x1="107.3" y1="864.1" x2="107.3" y2="866.5" stroke="#333" stroke-width="1"/>
<text x="107.3" y="874.1" font-size="9.08" fill="#333" text-anchor="middle">Common #1</text>
<line x1="174.4" y1="864.1" x2="174.4" y2="866.5" stroke="#333" stroke-width="1"/>
<text x="174.4" y="874.1" font-size="9.08" fill="#333" text-anchor="middle">Common #2</text>
<text x="140.8" y="888" font-size="11.3" fill="#1a1a1a" text-anchor="middle">RBFOX2 Peptides</text>
<text x="36.8" y="800.2" font-size="11.34" fill="#1a1a1a" text-anchor="middle" transform="rotate(-90 36.8 800.2)">Fragment Ion Intensity</text>
<text x="47.8" y="800.2" font-size="11.34" fill="#1a1a1a" text-anchor="middle" transform="rotate(-90 47.8 800.2)">Rel. to Control</text>
<line x1="226.4" y1="775.4" x2="226.4" y2="785.8" stroke="#444" stroke-width="0.8"/>
<rect x="221.6" y="777.2" width="9.6" height="6.8" fill="#7d7d7d" stroke="#444" stroke-width="0.9"/>
<line x1="221.6" y1="780.6" x2="231.2" y2="780.6" stroke="#444" stroke-width="0.9"/>
<text x="235" y="783.9" font-size="9.08" fill="#1a1a1a">Control</text>
<line x1="226.4" y1="792.2" x2="226.4" y2="802.6" stroke="#444" stroke-width="0.8"/>
<rect x="221.6" y="794" width="9.6" height="6.8" fill="#f2997d" stroke="#444" stroke-width="0.9"/>
<line x1="221.6" y1="797.4" x2="231.2" y2="797.4" stroke="#444" stroke-width="0.9"/>
<text x="235" y="800.7" font-size="9.08" fill="#1a1a1a">N-short KD</text>
<line x1="226.4" y1="809.6" x2="226.4" y2="820" stroke="#444" stroke-width="0.8"/>
<rect x="221.6" y="811.4" width="9.6" height="6.8" fill="#8891b4" stroke="#444" stroke-width="0.9"/>
<line x1="221.6" y1="814.8" x2="231.2" y2="814.8" stroke="#444" stroke-width="0.9"/>
<text x="235" y="818.1" font-size="9.08" fill="#1a1a1a">N-long KD</text>
<text x="285.6" y="466.5" font-size="17.5" fill="#111" font-weight="bold">f</text>
<text x="485.4" y="462.6" font-size="13.71" fill="#111" text-anchor="middle">Knockdown of N-short <tspan font-style="italic">RBFOX2</tspan> Isoforms Has</text>
<text x="486.6" y="476.4" font-size="13.71" fill="#111" text-anchor="middle">Minimal Effect on Downstream Splicing</text>
<text x="492.6" y="486.6" font-size="11.4" fill="#111" text-anchor="middle">rMATS Skipped Exon Events (n = 93)</text>
<rect x="325.1" y="507.5" width="116.3" height="118.8" fill="#fff"/>
<line x1="342.2" y1="507.5" x2="342.2" y2="626.3" stroke="#f4f4f4" stroke-width="0.6"/>
<line x1="325.1" y1="608.08" x2="441.4" y2="608.08" stroke="#f4f4f4" stroke-width="0.6"/>
<line x1="369" y1="507.5" x2="369" y2="626.3" stroke="#f4f4f4" stroke-width="0.6"/>
<line x1="325.1" y1="581.02" x2="441.4" y2="581.02" stroke="#f4f4f4" stroke-width="0.6"/>
<line x1="395.8" y1="507.5" x2="395.8" y2="626.3" stroke="#f4f4f4" stroke-width="0.6"/>
<line x1="325.1" y1="553.98" x2="441.4" y2="553.98" stroke="#f4f4f4" stroke-width="0.6"/>
<line x1="422.6" y1="507.5" x2="422.6" y2="626.3" stroke="#f4f4f4" stroke-width="0.6"/>
<line x1="325.1" y1="526.93" x2="441.4" y2="526.93" stroke="#f4f4f4" stroke-width="0.6"/>
<line x1="328.8" y1="507.5" x2="328.8" y2="626.3" stroke="#ebebeb" stroke-width="0.8"/>
<line x1="325.1" y1="621.6" x2="441.4" y2="621.6" stroke="#ebebeb" stroke-width="0.8"/>
<line x1="355.6" y1="507.5" x2="355.6" y2="626.3" stroke="#ebebeb" stroke-width="0.8"/>
<line x1="325.1" y1="594.55" x2="441.4" y2="594.55" stroke="#ebebeb" stroke-width="0.8"/>
<line x1="382.4" y1="507.5" x2="382.4" y2="626.3" stroke="#ebebeb" stroke-width="0.8"/>
<line x1="325.1" y1="567.5" x2="441.4" y2="567.5" stroke="#ebebeb" stroke-width="0.8"/>
<line x1="409.2" y1="507.5" x2="409.2" y2="626.3" stroke="#ebebeb" stroke-width="0.8"/>
<line x1="325.1" y1="540.45" x2="441.4" y2="540.45" stroke="#ebebeb" stroke-width="0.8"/>
<line x1="436" y1="507.5" x2="436" y2="626.3" stroke="#ebebeb" stroke-width="0.8"/>
<line x1="325.1" y1="513.4" x2="441.4" y2="513.4" stroke="#ebebeb" stroke-width="0.8"/>
<line x1="328.8" y1="621.6" x2="436" y2="513.4" stroke="#777" stroke-width="0.8" stroke-dasharray="2,2"/>
<circle cx="408.4" cy="513.1" r="1.75" fill="#20b2aa"/>
<circle cx="412.6" cy="513.1" r="1.75" fill="#20b2aa"/>
<circle cx="416.1" cy="513.1" r="1.75" fill="#20b2aa"/>
<circle cx="418.2" cy="513.1" r="1.75" fill="#20b2aa"/>
<circle cx="420.1" cy="513.1" r="1.75" fill="#20b2aa"/>
<circle cx="428.4" cy="513.1" r="1.75" fill="#20b2aa"/>
<circle cx="430.1" cy="513.1" r="1.75" fill="#20b2aa"/>
<circle cx="435" cy="513.1" r="1.75" fill="#20b2aa"/>
<circle cx="417.5" cy="516.4" r="1.75" fill="#20b2aa"/>
<circle cx="419.6" cy="517.3" r="1.75" fill="#20b2aa"/>
<circle cx="423.1" cy="516.4" r="1.75" fill="#20b2aa"/>
<circle cx="426.3" cy="516.9" r="1.75" fill="#20b2aa"/>
<circle cx="429.6" cy="514.6" r="1.75" fill="#20b2aa"/>
<circle cx="410.8" cy="520.4" r="1.75" fill="#20b2aa"/>
<circle cx="430.1" cy="520.4" r="1.75" fill="#20b2aa"/>
<circle cx="356.2" cy="521.6" r="1.75" fill="#20b2aa"/>
<circle cx="393" cy="526.9" r="1.75" fill="#20b2aa"/>
<circle cx="402.1" cy="526.5" r="1.75" fill="#20b2aa"/>
<circle cx="405.2" cy="529.2" r="1.75" fill="#20b2aa"/>
<circle cx="415.7" cy="526.4" r="1.75" fill="#20b2aa"/>
<circle cx="429.6" cy="525.3" r="1.75" fill="#20b2aa"/>
<circle cx="434.7" cy="525.3" r="1.75" fill="#20b2aa"/>
<circle cx="431.2" cy="528.8" r="1.75" fill="#20b2aa"/>
<circle cx="403" cy="532.7" r="1.75" fill="#20b2aa"/>
<circle cx="425.2" cy="533.6" r="1.75" fill="#20b2aa"/>
<circle cx="400.3" cy="537.6" r="1.75" fill="#20b2aa"/>
<circle cx="378.4" cy="538.6" r="1.75" fill="#20b2aa"/>
<circle cx="375.5" cy="542.3" r="1.75" fill="#20b2aa"/>
<circle cx="371.6" cy="546.5" r="1.75" fill="#20b2aa"/>
<circle cx="434.5" cy="536.5" r="1.75" fill="#20b2aa"/>
<circle cx="436.4" cy="536.2" r="1.75" fill="#20b2aa"/>
<circle cx="434" cy="537.9" r="1.75" fill="#20b2aa"/>
<circle cx="428" cy="543.2" r="1.75" fill="#20b2aa"/>
<circle cx="436.4" cy="544.2" r="1.75" fill="#20b2aa"/>
<circle cx="413.3" cy="547.2" r="1.75" fill="#20b2aa"/>
<circle cx="429.1" cy="549.3" r="1.75" fill="#20b2aa"/>
<circle cx="435.5" cy="548.4" r="1.75" fill="#20b2aa"/>
<circle cx="422.9" cy="556.9" r="1.75" fill="#20b2aa"/>
<circle cx="406.6" cy="556.2" r="1.75" fill="#20b2aa"/>
<circle cx="408" cy="557.9" r="1.75" fill="#20b2aa"/>
<circle cx="409.1" cy="559.3" r="1.75" fill="#20b2aa"/>
<circle cx="410.5" cy="560.7" r="1.75" fill="#20b2aa"/>
<circle cx="412.2" cy="561.9" r="1.75" fill="#20b2aa"/>
<circle cx="414.4" cy="563.2" r="1.75" fill="#20b2aa"/>
<circle cx="397.7" cy="564.7" r="1.75" fill="#20b2aa"/>
<circle cx="387.7" cy="568.8" r="1.75" fill="#20b2aa"/>
<circle cx="393.3" cy="569.3" r="1.75" fill="#20b2aa"/>
<circle cx="396.5" cy="572.3" r="1.75" fill="#20b2aa"/>
<circle cx="399.5" cy="573.3" r="1.75" fill="#20b2aa"/>
<circle cx="406.1" cy="570.9" r="1.75" fill="#20b2aa"/>
<circle cx="417.3" cy="574" r="1.75" fill="#20b2aa"/>
<circle cx="396.8" cy="578.9" r="1.75" fill="#20b2aa"/>
<circle cx="417.3" cy="581.4" r="1.75" fill="#20b2aa"/>
<circle cx="417.3" cy="582.8" r="1.75" fill="#20b2aa"/>
<circle cx="385.1" cy="583.1" r="1.75" fill="#20b2aa"/>
<circle cx="406.6" cy="587.7" r="1.75" fill="#20b2aa"/>
<circle cx="415.7" cy="587.3" r="1.75" fill="#20b2aa"/>
<circle cx="419.1" cy="589.8" r="1.75" fill="#20b2aa"/>
<circle cx="395.8" cy="589.8" r="1.75" fill="#20b2aa"/>
<circle cx="391" cy="591.5" r="1.75" fill="#20b2aa"/>
<circle cx="345.1" cy="588.9" r="1.75" fill="#20b2aa"/>
<circle cx="377.6" cy="590.8" r="1.75" fill="#20b2aa"/>
<circle cx="378.4" cy="592.9" r="1.75" fill="#20b2aa"/>
<circle cx="403.5" cy="595" r="1.75" fill="#20b2aa"/>
<circle cx="417.9" cy="593.8" r="1.75" fill="#20b2aa"/>
<circle cx="416.4" cy="596.1" r="1.75" fill="#20b2aa"/>
<circle cx="334.5" cy="598.9" r="1.75" fill="#20b2aa"/>
<circle cx="366.3" cy="596.4" r="1.75" fill="#20b2aa"/>
<circle cx="362.1" cy="597.5" r="1.75" fill="#20b2aa"/>
<circle cx="375.8" cy="598.9" r="1.75" fill="#20b2aa"/>
<circle cx="367.9" cy="601" r="1.75" fill="#20b2aa"/>
<circle cx="358.3" cy="601.5" r="1.75" fill="#20b2aa"/>
<circle cx="372.7" cy="604.1" r="1.75" fill="#20b2aa"/>
<circle cx="405.6" cy="603.1" r="1.75" fill="#20b2aa"/>
<circle cx="330.3" cy="605.2" r="1.75" fill="#20b2aa"/>
<circle cx="348.8" cy="607.3" r="1.75" fill="#20b2aa"/>
<circle cx="359.2" cy="607.3" r="1.75" fill="#20b2aa"/>
<circle cx="364.4" cy="605.5" r="1.75" fill="#20b2aa"/>
<circle cx="366.2" cy="609.6" r="1.75" fill="#20b2aa"/>
<circle cx="353.9" cy="610.5" r="1.75" fill="#20b2aa"/>
<circle cx="355.1" cy="612" r="1.75" fill="#20b2aa"/>
<circle cx="385.4" cy="611.5" r="1.75" fill="#20b2aa"/>
<circle cx="338.1" cy="615.2" r="1.75" fill="#20b2aa"/>
<circle cx="340.8" cy="617.3" r="1.75" fill="#20b2aa"/>
<circle cx="343.4" cy="616.4" r="1.75" fill="#20b2aa"/>
<circle cx="344.3" cy="615.7" r="1.75" fill="#20b2aa"/>
<circle cx="352.2" cy="616.1" r="1.75" fill="#20b2aa"/>
<circle cx="361.3" cy="616.9" r="1.75" fill="#20b2aa"/>
<circle cx="335.5" cy="619.9" r="1.75" fill="#20b2aa"/>
<circle cx="331.5" cy="621" r="1.75" fill="#20b2aa"/>
<rect x="325.1" y="507.5" width="116.3" height="118.8" fill="none" stroke="#7a7a7a" stroke-width="1"/>
<rect x="325.1" y="493.5" width="116.3" height="14" fill="#d9d9d9" stroke="#7a7a7a" stroke-width="1"/>
<text x="383.25" y="504.9" font-size="11.56" fill="#1a1a1a" text-anchor="middle">Total KD at 96hr</text>
<line x1="328.8" y1="626.3" x2="328.8" y2="628.3" stroke="#333" stroke-width="1"/>
<text x="328.8" y="636.4" font-size="9" fill="#333" text-anchor="middle">0</text>
<line x1="355.6" y1="626.3" x2="355.6" y2="628.3" stroke="#333" stroke-width="1"/>
<text x="355.6" y="636.4" font-size="9" fill="#333" text-anchor="middle">0.25</text>
<line x1="382.4" y1="626.3" x2="382.4" y2="628.3" stroke="#333" stroke-width="1"/>
<text x="382.4" y="636.4" font-size="9" fill="#333" text-anchor="middle">0.50</text>
<line x1="409.2" y1="626.3" x2="409.2" y2="628.3" stroke="#333" stroke-width="1"/>
<text x="409.2" y="636.4" font-size="9" fill="#333" text-anchor="middle">0.75</text>
<line x1="436" y1="626.3" x2="436" y2="628.3" stroke="#333" stroke-width="1"/>
<text x="436" y="636.4" font-size="9" fill="#333" text-anchor="middle">1.0</text>
<rect x="446.8" y="507.5" width="116.2" height="118.8" fill="#fff"/>
<line x1="463.5" y1="507.5" x2="463.5" y2="626.3" stroke="#f4f4f4" stroke-width="0.6"/>
<line x1="446.8" y1="608.08" x2="563" y2="608.08" stroke="#f4f4f4" stroke-width="0.6"/>
<line x1="490.3" y1="507.5" x2="490.3" y2="626.3" stroke="#f4f4f4" stroke-width="0.6"/>
<line x1="446.8" y1="581.02" x2="563" y2="581.02" stroke="#f4f4f4" stroke-width="0.6"/>
<line x1="517.1" y1="507.5" x2="517.1" y2="626.3" stroke="#f4f4f4" stroke-width="0.6"/>
<line x1="446.8" y1="553.98" x2="563" y2="553.98" stroke="#f4f4f4" stroke-width="0.6"/>
<line x1="543.9" y1="507.5" x2="543.9" y2="626.3" stroke="#f4f4f4" stroke-width="0.6"/>
<line x1="446.8" y1="526.93" x2="563" y2="526.93" stroke="#f4f4f4" stroke-width="0.6"/>
<line x1="450.1" y1="507.5" x2="450.1" y2="626.3" stroke="#ebebeb" stroke-width="0.8"/>
<line x1="446.8" y1="621.6" x2="563" y2="621.6" stroke="#ebebeb" stroke-width="0.8"/>
<line x1="476.9" y1="507.5" x2="476.9" y2="626.3" stroke="#ebebeb" stroke-width="0.8"/>
<line x1="446.8" y1="594.55" x2="563" y2="594.55" stroke="#ebebeb" stroke-width="0.8"/>
<line x1="503.7" y1="507.5" x2="503.7" y2="626.3" stroke="#ebebeb" stroke-width="0.8"/>
<line x1="446.8" y1="567.5" x2="563" y2="567.5" stroke="#ebebeb" stroke-width="0.8"/>
<line x1="530.5" y1="507.5" x2="530.5" y2="626.3" stroke="#ebebeb" stroke-width="0.8"/>
<line x1="446.8" y1="540.45" x2="563" y2="540.45" stroke="#ebebeb" stroke-width="0.8"/>
<line x1="557.3" y1="507.5" x2="557.3" y2="626.3" stroke="#ebebeb" stroke-width="0.8"/>
<line x1="446.8" y1="513.4" x2="563" y2="513.4" stroke="#ebebeb" stroke-width="0.8"/>
<line x1="450.1" y1="621.6" x2="557.3" y2="513.4" stroke="#777" stroke-width="0.8" stroke-dasharray="2,2"/>
<circle cx="529.6" cy="513.1" r="1.75" fill="#f0937a"/>
<circle cx="556.2" cy="513.8" r="1.75" fill="#f0937a"/>
<circle cx="557.1" cy="515.9" r="1.75" fill="#f0937a"/>
<circle cx="550.1" cy="516.9" r="1.75" fill="#f0937a"/>
<circle cx="555.4" cy="517.6" r="1.75" fill="#f0937a"/>
<circle cx="538.7" cy="519.4" r="1.75" fill="#f0937a"/>
<circle cx="541" cy="519.7" r="1.75" fill="#f0937a"/>
<circle cx="540.5" cy="521.6" r="1.75" fill="#f0937a"/>
<circle cx="548.4" cy="519.4" r="1.75" fill="#f0937a"/>
<circle cx="551" cy="520.4" r="1.75" fill="#f0937a"/>
<circle cx="557.5" cy="520.8" r="1.75" fill="#f0937a"/>
<circle cx="556.2" cy="522.9" r="1.75" fill="#f0937a"/>
<circle cx="552.2" cy="522.5" r="1.75" fill="#f0937a"/>
<circle cx="549.8" cy="523.9" r="1.75" fill="#f0937a"/>
<circle cx="551.9" cy="525.7" r="1.75" fill="#f0937a"/>
<circle cx="546.6" cy="524.3" r="1.75" fill="#f0937a"/>
<circle cx="544" cy="525.7" r="1.75" fill="#f0937a"/>
<circle cx="537.5" cy="524.3" r="1.75" fill="#f0937a"/>
<circle cx="534.7" cy="526.9" r="1.75" fill="#f0937a"/>
<circle cx="531.2" cy="529" r="1.75" fill="#f0937a"/>
<circle cx="526.6" cy="529.2" r="1.75" fill="#f0937a"/>
<circle cx="544.3" cy="526.9" r="1.75" fill="#f0937a"/>
<circle cx="539.3" cy="530.4" r="1.75" fill="#f0937a"/>
<circle cx="540.5" cy="532.7" r="1.75" fill="#f0937a"/>
<circle cx="544.5" cy="532.3" r="1.75" fill="#f0937a"/>
<circle cx="538.7" cy="533.6" r="1.75" fill="#f0937a"/>
<circle cx="557.5" cy="532.5" r="1.75" fill="#f0937a"/>
<circle cx="520.3" cy="535.1" r="1.75" fill="#f0937a"/>
<circle cx="534.3" cy="536.9" r="1.75" fill="#f0937a"/>
<circle cx="526.5" cy="537.9" r="1.75" fill="#f0937a"/>
<circle cx="536.1" cy="539.2" r="1.75" fill="#f0937a"/>
<circle cx="521.4" cy="539.3" r="1.75" fill="#f0937a"/>
<circle cx="528.2" cy="540" r="1.75" fill="#f0937a"/>
<circle cx="531.4" cy="542.3" r="1.75" fill="#f0937a"/>
<circle cx="524.2" cy="542.3" r="1.75" fill="#f0937a"/>
<circle cx="529.4" cy="543.5" r="1.75" fill="#f0937a"/>
<circle cx="513.7" cy="543" r="1.75" fill="#f0937a"/>
<circle cx="527.7" cy="545" r="1.75" fill="#f0937a"/>
<circle cx="537.5" cy="545.8" r="1.75" fill="#f0937a"/>
<circle cx="539.3" cy="548.1" r="1.75" fill="#f0937a"/>
<circle cx="528.2" cy="547.9" r="1.75" fill="#f0937a"/>
<circle cx="523.5" cy="550.2" r="1.75" fill="#f0937a"/>
<circle cx="512.4" cy="553.2" r="1.75" fill="#f0937a"/>
<circle cx="515.1" cy="554.4" r="1.75" fill="#f0937a"/>
<circle cx="518.6" cy="554.4" r="1.75" fill="#f0937a"/>
<circle cx="514.2" cy="557.2" r="1.75" fill="#f0937a"/>
<circle cx="516.8" cy="560" r="1.75" fill="#f0937a"/>
<circle cx="524.7" cy="562.3" r="1.75" fill="#f0937a"/>
<circle cx="538.4" cy="562.8" r="1.75" fill="#f0937a"/>
<circle cx="506.3" cy="564.6" r="1.75" fill="#f0937a"/>
<circle cx="506.3" cy="566.1" r="1.75" fill="#f0937a"/>
<circle cx="508.9" cy="566.1" r="1.75" fill="#f0937a"/>
<circle cx="518.2" cy="569.3" r="1.75" fill="#f0937a"/>
<circle cx="499.3" cy="570.5" r="1.75" fill="#f0937a"/>
<circle cx="498.4" cy="573.1" r="1.75" fill="#f0937a"/>
<circle cx="496.7" cy="576.1" r="1.75" fill="#f0937a"/>
<circle cx="492.7" cy="578.4" r="1.75" fill="#f0937a"/>
<circle cx="487.4" cy="581.5" r="1.75" fill="#f0937a"/>
<circle cx="497" cy="583.3" r="1.75" fill="#f0937a"/>
<circle cx="483.2" cy="585.4" r="1.75" fill="#f0937a"/>
<circle cx="480" cy="586.3" r="1.75" fill="#f0937a"/>
<circle cx="477.4" cy="589.1" r="1.75" fill="#f0937a"/>
<circle cx="479.2" cy="590.1" r="1.75" fill="#f0937a"/>
<circle cx="485.6" cy="588.9" r="1.75" fill="#f0937a"/>
<circle cx="487" cy="590.7" r="1.75" fill="#f0937a"/>
<circle cx="506.3" cy="592.2" r="1.75" fill="#f0937a"/>
<circle cx="476.2" cy="594.3" r="1.75" fill="#f0937a"/>
<circle cx="489.1" cy="597.5" r="1.75" fill="#f0937a"/>
<circle cx="494.1" cy="597.3" r="1.75" fill="#f0937a"/>
<circle cx="482.3" cy="598.4" r="1.75" fill="#f0937a"/>
<circle cx="476.9" cy="600.8" r="1.75" fill="#f0937a"/>
<circle cx="466.4" cy="602.4" r="1.75" fill="#f0937a"/>
<circle cx="470.1" cy="602.6" r="1.75" fill="#f0937a"/>
<circle cx="451.5" cy="604.1" r="1.75" fill="#f0937a"/>
<circle cx="475.1" cy="605" r="1.75" fill="#f0937a"/>
<circle cx="473.4" cy="606.3" r="1.75" fill="#f0937a"/>
<circle cx="455.5" cy="611.2" r="1.75" fill="#f0937a"/>
<circle cx="461.6" cy="612.6" r="1.75" fill="#f0937a"/>
<circle cx="465.5" cy="614" r="1.75" fill="#f0937a"/>
<circle cx="457.3" cy="615.5" r="1.75" fill="#f0937a"/>
<circle cx="459.4" cy="615.5" r="1.75" fill="#f0937a"/>
<circle cx="464.6" cy="616.4" r="1.75" fill="#f0937a"/>
<circle cx="452.4" cy="618.3" r="1.75" fill="#f0937a"/>
<circle cx="452" cy="619.9" r="1.75" fill="#f0937a"/>
<rect x="446.8" y="507.5" width="116.2" height="118.8" fill="none" stroke="#7a7a7a" stroke-width="1"/>
<rect x="446.8" y="493.5" width="116.2" height="14" fill="#d9d9d9" stroke="#7a7a7a" stroke-width="1"/>
<text x="504.9" y="504.9" font-size="11.56" fill="#1a1a1a" text-anchor="middle">N-short KD at 96hr</text>
<line x1="450.1" y1="626.3" x2="450.1" y2="628.3" stroke="#333" stroke-width="1"/>
<text x="450.1" y="636.4" font-size="9" fill="#333" text-anchor="middle">0</text>
<line x1="476.9" y1="626.3" x2="476.9" y2="628.3" stroke="#333" stroke-width="1"/>
<text x="476.9" y="636.4" font-size="9" fill="#333" text-anchor="middle">0.25</text>
<line x1="503.7" y1="626.3" x2="503.7" y2="628.3" stroke="#333" stroke-width="1"/>
<text x="503.7" y="636.4" font-size="9" fill="#333" text-anchor="middle">0.50</text>
<line x1="530.5" y1="626.3" x2="530.5" y2="628.3" stroke="#333" stroke-width="1"/>
<text x="530.5" y="636.4" font-size="9" fill="#333" text-anchor="middle">0.75</text>
<line x1="557.3" y1="626.3" x2="557.3" y2="628.3" stroke="#333" stroke-width="1"/>
<text x="557.3" y="636.4" font-size="9" fill="#333" text-anchor="middle">1.0</text>
<rect x="567.8" y="507.5" width="116.5" height="118.8" fill="#fff"/>
<line x1="584.61" y1="507.5" x2="584.61" y2="626.3" stroke="#f4f4f4" stroke-width="0.6"/>
<line x1="567.8" y1="608.08" x2="684.3" y2="608.08" stroke="#f4f4f4" stroke-width="0.6"/>
<line x1="611.44" y1="507.5" x2="611.44" y2="626.3" stroke="#f4f4f4" stroke-width="0.6"/>
<line x1="567.8" y1="581.02" x2="684.3" y2="581.02" stroke="#f4f4f4" stroke-width="0.6"/>
<line x1="638.26" y1="507.5" x2="638.26" y2="626.3" stroke="#f4f4f4" stroke-width="0.6"/>
<line x1="567.8" y1="553.98" x2="684.3" y2="553.98" stroke="#f4f4f4" stroke-width="0.6"/>
<line x1="665.09" y1="507.5" x2="665.09" y2="626.3" stroke="#f4f4f4" stroke-width="0.6"/>
<line x1="567.8" y1="526.93" x2="684.3" y2="526.93" stroke="#f4f4f4" stroke-width="0.6"/>
<line x1="571.2" y1="507.5" x2="571.2" y2="626.3" stroke="#ebebeb" stroke-width="0.8"/>
<line x1="567.8" y1="621.6" x2="684.3" y2="621.6" stroke="#ebebeb" stroke-width="0.8"/>
<line x1="598.03" y1="507.5" x2="598.03" y2="626.3" stroke="#ebebeb" stroke-width="0.8"/>
<line x1="567.8" y1="594.55" x2="684.3" y2="594.55" stroke="#ebebeb" stroke-width="0.8"/>
<line x1="624.85" y1="507.5" x2="624.85" y2="626.3" stroke="#ebebeb" stroke-width="0.8"/>
<line x1="567.8" y1="567.5" x2="684.3" y2="567.5" stroke="#ebebeb" stroke-width="0.8"/>
<line x1="651.67" y1="507.5" x2="651.67" y2="626.3" stroke="#ebebeb" stroke-width="0.8"/>
<line x1="567.8" y1="540.45" x2="684.3" y2="540.45" stroke="#ebebeb" stroke-width="0.8"/>
<line x1="678.5" y1="507.5" x2="678.5" y2="626.3" stroke="#ebebeb" stroke-width="0.8"/>
<line x1="567.8" y1="513.4" x2="684.3" y2="513.4" stroke="#ebebeb" stroke-width="0.8"/>
<line x1="571.2" y1="621.6" x2="678.5" y2="513.4" stroke="#777" stroke-width="0.8" stroke-dasharray="2,2"/>
<circle cx="672.2" cy="513.1" r="1.75" fill="#7f8ab8"/>
<circle cx="671.3" cy="514.1" r="1.75" fill="#7f8ab8"/>
<circle cx="677.1" cy="513.2" r="1.75" fill="#7f8ab8"/>
<circle cx="662.2" cy="515.5" r="1.75" fill="#7f8ab8"/>
<circle cx="676.8" cy="519" r="1.75" fill="#7f8ab8"/>
<circle cx="676.4" cy="520.4" r="1.75" fill="#7f8ab8"/>
<circle cx="661.7" cy="521.6" r="1.75" fill="#7f8ab8"/>
<circle cx="673.6" cy="523.7" r="1.75" fill="#7f8ab8"/>
<circle cx="650.5" cy="525.7" r="1.75" fill="#7f8ab8"/>
<circle cx="678" cy="527.4" r="1.75" fill="#7f8ab8"/>
<circle cx="665.2" cy="528.1" r="1.75" fill="#7f8ab8"/>
<circle cx="668" cy="527.4" r="1.75" fill="#7f8ab8"/>
<circle cx="668.9" cy="528.1" r="1.75" fill="#7f8ab8"/>
<circle cx="660" cy="528.7" r="1.75" fill="#7f8ab8"/>
<circle cx="657.9" cy="530.4" r="1.75" fill="#7f8ab8"/>
<circle cx="661.7" cy="531.3" r="1.75" fill="#7f8ab8"/>
<circle cx="653.1" cy="530.9" r="1.75" fill="#7f8ab8"/>
<circle cx="672.2" cy="530.4" r="1.75" fill="#7f8ab8"/>
<circle cx="642.6" cy="532.5" r="1.75" fill="#7f8ab8"/>
<circle cx="644.7" cy="532.2" r="1.75" fill="#7f8ab8"/>
<circle cx="647.3" cy="534.4" r="1.75" fill="#7f8ab8"/>
<circle cx="635.1" cy="534.8" r="1.75" fill="#7f8ab8"/>
<circle cx="670.1" cy="534.4" r="1.75" fill="#7f8ab8"/>
<circle cx="673.6" cy="535.3" r="1.75" fill="#7f8ab8"/>
<circle cx="678.5" cy="533.4" r="1.75" fill="#7f8ab8"/>
<circle cx="665.2" cy="536.5" r="1.75" fill="#7f8ab8"/>
<circle cx="670.6" cy="537.6" r="1.75" fill="#7f8ab8"/>
<circle cx="655.2" cy="536.5" r="1.75" fill="#7f8ab8"/>
<circle cx="658.7" cy="537.6" r="1.75" fill="#7f8ab8"/>
<circle cx="645.2" cy="539.2" r="1.75" fill="#7f8ab8"/>
<circle cx="635.4" cy="542.3" r="1.75" fill="#7f8ab8"/>
<circle cx="665.4" cy="544.4" r="1.75" fill="#7f8ab8"/>
<circle cx="659.6" cy="546.3" r="1.75" fill="#7f8ab8"/>
<circle cx="657.9" cy="546.7" r="1.75" fill="#7f8ab8"/>
<circle cx="650.5" cy="546.7" r="1.75" fill="#7f8ab8"/>
<circle cx="656.6" cy="549.1" r="1.75" fill="#7f8ab8"/>
<circle cx="649.1" cy="550.2" r="1.75" fill="#7f8ab8"/>
<circle cx="620.7" cy="549.7" r="1.75" fill="#7f8ab8"/>
<circle cx="638.9" cy="553.7" r="1.75" fill="#7f8ab8"/>
<circle cx="641.6" cy="553.2" r="1.75" fill="#7f8ab8"/>
<circle cx="645.9" cy="554.6" r="1.75" fill="#7f8ab8"/>
<circle cx="648.6" cy="556.3" r="1.75" fill="#7f8ab8"/>
<circle cx="652.2" cy="554.1" r="1.75" fill="#7f8ab8"/>
<circle cx="617.9" cy="555.8" r="1.75" fill="#7f8ab8"/>
<circle cx="655.6" cy="557.6" r="1.75" fill="#7f8ab8"/>
<circle cx="655.2" cy="563.7" r="1.75" fill="#7f8ab8"/>
<circle cx="659.6" cy="562.8" r="1.75" fill="#7f8ab8"/>
<circle cx="640" cy="565.1" r="1.75" fill="#7f8ab8"/>
<circle cx="613.7" cy="564.9" r="1.75" fill="#7f8ab8"/>
<circle cx="630.2" cy="567" r="1.75" fill="#7f8ab8"/>
<circle cx="638.2" cy="571" r="1.75" fill="#7f8ab8"/>
<circle cx="635.4" cy="572.3" r="1.75" fill="#7f8ab8"/>
<circle cx="648.7" cy="574" r="1.75" fill="#7f8ab8"/>
<circle cx="619.7" cy="575.4" r="1.75" fill="#7f8ab8"/>
<circle cx="627.5" cy="578.4" r="1.75" fill="#7f8ab8"/>
<circle cx="661" cy="577.9" r="1.75" fill="#7f8ab8"/>
<circle cx="660" cy="580.1" r="1.75" fill="#7f8ab8"/>
<circle cx="659.3" cy="581.4" r="1.75" fill="#7f8ab8"/>
<circle cx="639.3" cy="581.7" r="1.75" fill="#7f8ab8"/>
<circle cx="615.1" cy="581" r="1.75" fill="#7f8ab8"/>
<circle cx="620.7" cy="586.6" r="1.75" fill="#7f8ab8"/>
<circle cx="618.4" cy="589.4" r="1.75" fill="#7f8ab8"/>
<circle cx="633.3" cy="589.8" r="1.75" fill="#7f8ab8"/>
<circle cx="598.6" cy="592.9" r="1.75" fill="#7f8ab8"/>
<circle cx="605" cy="594.7" r="1.75" fill="#7f8ab8"/>
<circle cx="607" cy="593.6" r="1.75" fill="#7f8ab8"/>
<circle cx="608.4" cy="592.4" r="1.75" fill="#7f8ab8"/>
<circle cx="610.2" cy="594.5" r="1.75" fill="#7f8ab8"/>
<circle cx="658.7" cy="594.2" r="1.75" fill="#7f8ab8"/>
<circle cx="648.2" cy="597.3" r="1.75" fill="#7f8ab8"/>
<circle cx="587.4" cy="597.7" r="1.75" fill="#7f8ab8"/>
<circle cx="600.6" cy="598.2" r="1.75" fill="#7f8ab8"/>
<circle cx="601.3" cy="599.6" r="1.75" fill="#7f8ab8"/>
<circle cx="591.3" cy="604.8" r="1.75" fill="#7f8ab8"/>
<circle cx="597.1" cy="607.3" r="1.75" fill="#7f8ab8"/>
<circle cx="596.2" cy="608.7" r="1.75" fill="#7f8ab8"/>
<circle cx="594.4" cy="610.5" r="1.75" fill="#7f8ab8"/>
<circle cx="598.3" cy="611.3" r="1.75" fill="#7f8ab8"/>
<circle cx="627.5" cy="609.4" r="1.75" fill="#7f8ab8"/>
<circle cx="582.9" cy="609.4" r="1.75" fill="#7f8ab8"/>
<circle cx="572.5" cy="611.3" r="1.75" fill="#7f8ab8"/>
<circle cx="576.6" cy="612.6" r="1.75" fill="#7f8ab8"/>
<circle cx="585.7" cy="613.1" r="1.75" fill="#7f8ab8"/>
<circle cx="586.4" cy="614.8" r="1.75" fill="#7f8ab8"/>
<circle cx="580.4" cy="614.8" r="1.75" fill="#7f8ab8"/>
<circle cx="603.5" cy="614.3" r="1.75" fill="#7f8ab8"/>
<circle cx="608.4" cy="614" r="1.75" fill="#7f8ab8"/>
<circle cx="573.4" cy="619.2" r="1.75" fill="#7f8ab8"/>
<circle cx="578.1" cy="619.2" r="1.75" fill="#7f8ab8"/>
<circle cx="572.9" cy="620.8" r="1.75" fill="#7f8ab8"/>
<rect x="567.8" y="507.5" width="116.5" height="118.8" fill="none" stroke="#7a7a7a" stroke-width="1"/>
<rect x="567.8" y="493.5" width="116.5" height="14" fill="#d9d9d9" stroke="#7a7a7a" stroke-width="1"/>
<text x="626.05" y="504.9" font-size="11.56" fill="#1a1a1a" text-anchor="middle">N-long KD at 96hr</text>
<line x1="571.2" y1="626.3" x2="571.2" y2="628.3" stroke="#333" stroke-width="1"/>
<text x="571.2" y="636.4" font-size="9" fill="#333" text-anchor="middle">0</text>
<line x1="598.03" y1="626.3" x2="598.03" y2="628.3" stroke="#333" stroke-width="1"/>
<text x="598.03" y="636.4" font-size="9" fill="#333" text-anchor="middle">0.25</text>
<line x1="624.85" y1="626.3" x2="624.85" y2="628.3" stroke="#333" stroke-width="1"/>
<text x="624.85" y="636.4" font-size="9" fill="#333" text-anchor="middle">0.50</text>
<line x1="651.67" y1="626.3" x2="651.67" y2="628.3" stroke="#333" stroke-width="1"/>
<text x="651.67" y="636.4" font-size="9" fill="#333" text-anchor="middle">0.75</text>
<line x1="678.5" y1="626.3" x2="678.5" y2="628.3" stroke="#333" stroke-width="1"/>
<text x="678.5" y="636.4" font-size="9" fill="#333" text-anchor="middle">1.0</text>
<line x1="323" y1="621.6" x2="325.1" y2="621.6" stroke="#333" stroke-width="1"/>
<text x="322.2" y="624.8" font-size="9" fill="#333" text-anchor="end">0</text>
<line x1="323" y1="594.55" x2="325.1" y2="594.55" stroke="#333" stroke-width="1"/>
<text x="322.2" y="597.75" font-size="9" fill="#333" text-anchor="end">0.25</text>
<line x1="323" y1="567.5" x2="325.1" y2="567.5" stroke="#333" stroke-width="1"/>
<text x="322.2" y="570.7" font-size="9" fill="#333" text-anchor="end">0.50</text>
<line x1="323" y1="540.45" x2="325.1" y2="540.45" stroke="#333" stroke-width="1"/>
<text x="322.2" y="543.65" font-size="9" fill="#333" text-anchor="end">0.75</text>
<line x1="323" y1="513.4" x2="325.1" y2="513.4" stroke="#333" stroke-width="1"/>
<text x="322.2" y="516.6" font-size="9" fill="#333" text-anchor="end">1.0</text>
<text x="508.9" y="652.4" font-size="11.3" fill="#1a1a1a" text-anchor="middle">Target PSI in Control</text>
<text x="299.4" y="560" font-size="11.36" fill="#1a1a1a" text-anchor="middle" transform="rotate(-90 299.4 560)">Target PSI in KD</text>
<text x="286" y="675" font-size="17.5" fill="#111" font-weight="bold">g</text>
<text x="324.1" y="674.7" font-size="13.69" fill="#111">Validation of <tspan font-style="italic">GOLIM4</tspan> and <tspan font-style="italic">CLSTN1</tspan> Skipped Exon Events</text>
<text x="336.5" y="689.2" font-size="11.42" fill="#111">RNA-seq Timecourse</text>
<text x="501.4" y="688.8" font-size="11.47" fill="#111">PCRs of Skipped Exon</text>
<line x1="332.8" y1="698.9" x2="340.4" y2="698.9" stroke="#bdbdbd" stroke-width="1.9"/>
<circle cx="336.6" cy="698.9" r="2.6" fill="#bdbdbd"/>
<text x="343.2" y="702.9" font-size="9.1" fill="#1a1a1a">Control</text>
<line x1="393.6" y1="698.9" x2="401.2" y2="698.9" stroke="#20b2aa" stroke-width="1.9"/>
<circle cx="397.4" cy="698.9" r="2.6" fill="#20b2aa"/>
<text x="404" y="702.9" font-size="9.1" fill="#1a1a1a">Total KD</text>
<line x1="332.8" y1="710.2" x2="340.4" y2="710.2" stroke="#f0937a" stroke-width="1.9"/>
<circle cx="336.6" cy="710.2" r="2.6" fill="#f0937a"/>
<text x="343.2" y="714.2" font-size="9.1" fill="#1a1a1a">N-short KD</text>
<line x1="393.6" y1="710.2" x2="401.2" y2="710.2" stroke="#8890c0" stroke-width="1.9"/>
<circle cx="397.4" cy="710.2" r="2.6" fill="#8890c0"/>
<text x="404" y="714.2" font-size="9.1" fill="#1a1a1a">N-long KD</text>
<rect x="337.7" y="720.7" width="103.5" height="64.6" fill="#fff"/>
<line x1="337.7" y1="741.72" x2="441.2" y2="741.72" stroke="#f4f4f4" stroke-width="0.6"/>
<line x1="337.7" y1="763.57" x2="441.2" y2="763.57" stroke="#f4f4f4" stroke-width="0.6"/>
<line x1="368.1" y1="720.7" x2="368.1" y2="785.3" stroke="#f4f4f4" stroke-width="0.6"/>
<line x1="408.75" y1="720.7" x2="408.75" y2="785.3" stroke="#f4f4f4" stroke-width="0.6"/>
<line x1="337.7" y1="730.8" x2="441.2" y2="730.8" stroke="#ebebeb" stroke-width="0.8"/>
<line x1="337.7" y1="752.65" x2="441.2" y2="752.65" stroke="#ebebeb" stroke-width="0.8"/>
<line x1="337.7" y1="774.5" x2="441.2" y2="774.5" stroke="#ebebeb" stroke-width="0.8"/>
<line x1="347.7" y1="720.7" x2="347.7" y2="785.3" stroke="#ebebeb" stroke-width="0.8"/>
<line x1="388.5" y1="720.7" x2="388.5" y2="785.3" stroke="#ebebeb" stroke-width="0.8"/>
<line x1="429" y1="720.7" x2="429" y2="785.3" stroke="#ebebeb" stroke-width="0.8"/>
<polyline points="347.7,730.1 388.5,723.8 429,729.6" fill="none" stroke="#bdbdbd" stroke-width="0.9"/>
<circle cx="347.7" cy="730.1" r="1.85" fill="#bdbdbd"/>
<circle cx="388.5" cy="723.8" r="1.85" fill="#bdbdbd"/>
<circle cx="429" cy="729.6" r="1.85" fill="#bdbdbd"/>
<polyline points="347.7,770.1 388.5,776.1 429,782.4" fill="none" stroke="#20b2aa" stroke-width="0.9"/>
<circle cx="347.7" cy="770.1" r="1.85" fill="#20b2aa"/>
<circle cx="388.5" cy="776.1" r="1.85" fill="#20b2aa"/>
<circle cx="429" cy="782.4" r="1.85" fill="#20b2aa"/>
<polyline points="347.7,759.8 388.5,753 429,780.6" fill="none" stroke="#8890c0" stroke-width="0.9"/>
<circle cx="347.7" cy="759.8" r="1.85" fill="#8890c0"/>
<circle cx="388.5" cy="753" r="1.85" fill="#8890c0"/>
<circle cx="429" cy="780.6" r="1.85" fill="#8890c0"/>
<polyline points="347.7,730.1 388.5,723.8 429,739.9" fill="none" stroke="#f0937a" stroke-width="0.9"/>
<circle cx="347.7" cy="730.1" r="1.85" fill="#f0937a"/>
<circle cx="388.5" cy="723.8" r="1.85" fill="#f0937a"/>
<circle cx="429" cy="739.9" r="1.85" fill="#f0937a"/>
<rect x="337.7" y="720.7" width="103.5" height="64.6" fill="none" stroke="#7a7a7a" stroke-width="1"/>
<line x1="335.4" y1="730.8" x2="337.7" y2="730.8" stroke="#333" stroke-width="1"/>
<text x="335.1" y="734" font-size="9.3" fill="#333" text-anchor="end">0.8</text>
<line x1="335.4" y1="752.65" x2="337.7" y2="752.65" stroke="#333" stroke-width="1"/>
<text x="335.1" y="755.85" font-size="9.3" fill="#333" text-anchor="end">0.6</text>
<line x1="335.4" y1="774.5" x2="337.7" y2="774.5" stroke="#333" stroke-width="1"/>
<text x="335.1" y="777.7" font-size="9.3" fill="#333" text-anchor="end">0.4</text>
<line x1="347.7" y1="785.3" x2="347.7" y2="787.6" stroke="#333" stroke-width="1"/>
<text x="347.7" y="795.6" font-size="9.3" fill="#333" text-anchor="middle">24</text>
<line x1="388.5" y1="785.3" x2="388.5" y2="787.6" stroke="#333" stroke-width="1"/>
<text x="388.5" y="795.6" font-size="9.3" fill="#333" text-anchor="middle">48</text>
<line x1="429" y1="785.3" x2="429" y2="787.6" stroke="#333" stroke-width="1"/>
<text x="429" y="795.6" font-size="9.3" fill="#333" text-anchor="middle">96</text>
<text x="320.9" y="750" font-size="10.5" fill="#111" text-anchor="middle" transform="rotate(-90 320.9 750)"><tspan font-style="italic">GOLIM4</tspan> PSI</text>
<rect x="337.7" y="804.9" width="103.5" height="60.6" fill="#fff"/>
<line x1="337.7" y1="826.35" x2="441.2" y2="826.35" stroke="#f4f4f4" stroke-width="0.6"/>
<line x1="337.7" y1="843.85" x2="441.2" y2="843.85" stroke="#f4f4f4" stroke-width="0.6"/>
<line x1="337.7" y1="861.35" x2="441.2" y2="861.35" stroke="#f4f4f4" stroke-width="0.6"/>
<line x1="367.85" y1="804.9" x2="367.85" y2="865.5" stroke="#f4f4f4" stroke-width="0.6"/>
<line x1="408.35" y1="804.9" x2="408.35" y2="865.5" stroke="#f4f4f4" stroke-width="0.6"/>
<line x1="337.7" y1="817.6" x2="441.2" y2="817.6" stroke="#ebebeb" stroke-width="0.8"/>
<line x1="337.7" y1="835.1" x2="441.2" y2="835.1" stroke="#ebebeb" stroke-width="0.8"/>
<line x1="337.7" y1="852.6" x2="441.2" y2="852.6" stroke="#ebebeb" stroke-width="0.8"/>
<line x1="347.5" y1="804.9" x2="347.5" y2="865.5" stroke="#ebebeb" stroke-width="0.8"/>
<line x1="388.2" y1="804.9" x2="388.2" y2="865.5" stroke="#ebebeb" stroke-width="0.8"/>
<line x1="428.5" y1="804.9" x2="428.5" y2="865.5" stroke="#ebebeb" stroke-width="0.8"/>
<polyline points="347.5,822.4 388.2,807.5 428.5,817.3" fill="none" stroke="#bdbdbd" stroke-width="0.9"/>
<circle cx="347.5" cy="822.4" r="1.85" fill="#bdbdbd"/>
<circle cx="388.2" cy="807.5" r="1.85" fill="#bdbdbd"/>
<circle cx="428.5" cy="817.3" r="1.85" fill="#bdbdbd"/>
<polyline points="347.5,859.4 388.2,858.5 428.5,862.9" fill="none" stroke="#20b2aa" stroke-width="0.9"/>
<circle cx="347.5" cy="859.4" r="1.85" fill="#20b2aa"/>
<circle cx="388.2" cy="858.5" r="1.85" fill="#20b2aa"/>
<circle cx="428.5" cy="862.9" r="1.85" fill="#20b2aa"/>
<polyline points="347.5,850.6 388.2,862.2 428.5,858.9" fill="none" stroke="#8890c0" stroke-width="0.9"/>
<circle cx="347.5" cy="850.6" r="1.85" fill="#8890c0"/>
<circle cx="388.2" cy="862.2" r="1.85" fill="#8890c0"/>
<circle cx="428.5" cy="858.9" r="1.85" fill="#8890c0"/>
<polyline points="347.5,839.9 388.2,819.1 428.5,833.3" fill="none" stroke="#f0937a" stroke-width="0.9"/>
<circle cx="347.5" cy="839.9" r="1.85" fill="#f0937a"/>
<circle cx="388.2" cy="819.1" r="1.85" fill="#f0937a"/>
<circle cx="428.5" cy="833.3" r="1.85" fill="#f0937a"/>
<rect x="337.7" y="804.9" width="103.5" height="60.6" fill="none" stroke="#7a7a7a" stroke-width="1"/>
<line x1="335.4" y1="817.6" x2="337.7" y2="817.6" stroke="#333" stroke-width="1"/>
<text x="335.1" y="820.8" font-size="9.3" fill="#333" text-anchor="end">0.3</text>
<line x1="335.4" y1="835.1" x2="337.7" y2="835.1" stroke="#333" stroke-width="1"/>
<text x="335.1" y="838.3" font-size="9.3" fill="#333" text-anchor="end">0.2</text>
<line x1="335.4" y1="852.6" x2="337.7" y2="852.6" stroke="#333" stroke-width="1"/>
<text x="335.1" y="855.8" font-size="9.3" fill="#333" text-anchor="end">0.1</text>
<line x1="347.5" y1="865.5" x2="347.5" y2="867.8" stroke="#333" stroke-width="1"/>
<text x="347.5" y="874.9" font-size="9.3" fill="#333" text-anchor="middle">24</text>
<line x1="388.2" y1="865.5" x2="388.2" y2="867.8" stroke="#333" stroke-width="1"/>
<text x="388.2" y="874.9" font-size="9.3" fill="#333" text-anchor="middle">48</text>
<line x1="428.5" y1="865.5" x2="428.5" y2="867.8" stroke="#333" stroke-width="1"/>
<text x="428.5" y="874.9" font-size="9.3" fill="#333" text-anchor="middle">96</text>
<text x="320.9" y="833.4" font-size="10.5" fill="#111" text-anchor="middle" transform="rotate(-90 320.9 833.4)"><tspan font-style="italic">CLSTN1</tspan> PSI</text>
<text x="320.1" y="888.4" font-size="11.24" fill="#111">Time (hrs) of <tspan font-style="italic">RBFOX2</tspan> KD</text>
<rect x="538.4" y="703" width="41.5" height="6.2" fill="#c8c8c8" stroke="#333" stroke-width="0.8"/>
<rect x="552.2" y="703" width="13.5" height="6.2" fill="#1f4f8f" stroke="#333" stroke-width="0.8"/>
<line x1="540.6" y1="712.4" x2="546.1" y2="712.4" stroke="#222" stroke-width="0.8"/>
<path d="M546.9,712.4 L544.9,711.1 L544.9,713.7 Z" fill="#222"/>
<line x1="546.9" y1="711" x2="546.9" y2="713.8" stroke="#222" stroke-width="0.6"/>
<line x1="571.2" y1="712.4" x2="576.7" y2="712.4" stroke="#222" stroke-width="0.8"/>
<path d="M570.4,712.4 L572.4,711.1 L572.4,713.7 Z" fill="#222"/>
<line x1="570.4" y1="711" x2="570.4" y2="713.8" stroke="#222" stroke-width="0.6"/>
<text x="530.3" y="752.6" font-size="9.1" fill="#111" transform="rotate(-45 530.3 752.6)">Control</text>
<text x="556" y="752.6" font-size="9.1" fill="#111" transform="rotate(-45 556.0 752.6)">N-short KD</text>
<text x="582.1" y="752.6" font-size="9.1" fill="#111" transform="rotate(-45 582.1 752.6)">N-long KD</text>
<rect x="518.3" y="756.4" width="82.4" height="28.8" fill="#e6e6e6"/>
<g filter="url(#bl3)"><rect x="521.5" y="757.4" width="22" height="26.8" fill="#dedede"/><rect x="548.8" y="757.4" width="21" height="26.8" fill="#dedede"/><rect x="575.5" y="757.4" width="21.5" height="26.8" fill="#dedede"/></g>
<g filter="url(#bl2)"><rect x="521.65" y="763.3" width="21.5" height="5" rx="2.5" fill="#1e1e1e"/><rect x="549.15" y="762" width="20.5" height="4.8" rx="2.4" fill="#1a1a1a"/><rect x="576.05" y="762.6" width="20.5" height="4" rx="2" fill="#6e6e6e"/><rect x="521.9" y="777.5" width="21" height="3" rx="1.5" fill="#d0d0d0"/><rect x="549.15" y="776.6" width="20.5" height="3.2" rx="1.6" fill="#bdbdbd"/><rect x="576.05" y="774.7" width="20.5" height="4.2" rx="2.1" fill="#7e7e7e"/></g>
<rect x="518.3" y="756.4" width="82.4" height="28.8" fill="none" stroke="#333" stroke-width="0.9"/>
<rect x="602.5" y="761.6" width="30.7" height="5.8" fill="#c8c8c8" stroke="#333" stroke-width="0.8"/>
<rect x="612.2" y="761.6" width="11" height="5.8" fill="#1f4f8f" stroke="#333" stroke-width="0.8"/>
<rect x="606.5" y="773.1" width="22" height="5.8" fill="#c8c8c8" stroke="#333" stroke-width="0.8"/>
<line x1="617.5" y1="773.1" x2="617.5" y2="778.9" stroke="#333" stroke-width="0.8"/>
<text x="637.9" y="767" font-size="9.4" fill="#111">296 bp</text>
<text x="637.9" y="778.6" font-size="9.4" fill="#111">212 bp</text>
<text x="467.6" y="777.3" font-size="10.35" fill="#111" font-style="italic">GOLIM4</text>
<text x="530.2" y="795.7" font-size="9.8" fill="#111" text-anchor="middle">90</text>
<text x="558.4" y="795.7" font-size="9.8" fill="#111" text-anchor="middle">87</text>
<text x="584.8" y="795.7" font-size="9.8" fill="#111" text-anchor="middle">62</text>
<text x="615" y="795.7" font-size="9.8" fill="#111" text-anchor="middle">PSI</text>
<rect x="539.5" y="810.2" width="41.1" height="6.1" fill="#c8c8c8" stroke="#333" stroke-width="0.8"/>
<rect x="553.3" y="810.2" width="13.5" height="6.1" fill="#b44aae" stroke="#333" stroke-width="0.8"/>
<line x1="541" y1="821.4" x2="547.2" y2="821.4" stroke="#222" stroke-width="0.8"/>
<path d="M548,821.4 L546,820.1 L546,822.7 Z" fill="#222"/>
<line x1="548" y1="820" x2="548" y2="822.8" stroke="#222" stroke-width="0.6"/>
<line x1="572.3" y1="821.4" x2="578.6" y2="821.4" stroke="#222" stroke-width="0.8"/>
<path d="M571.5,821.4 L573.5,820.1 L573.5,822.7 Z" fill="#222"/>
<line x1="571.5" y1="820" x2="571.5" y2="822.8" stroke="#222" stroke-width="0.6"/>
<rect x="518.3" y="828.3" width="82.4" height="28.6" fill="#e6e6e6"/>
<g filter="url(#bl3)"><rect x="521.5" y="829.3" width="22" height="26.6" fill="#dedede"/><rect x="548.8" y="829.3" width="21" height="26.6" fill="#dedede"/><rect x="575.5" y="829.3" width="21.5" height="26.6" fill="#dedede"/></g>
<g filter="url(#bl2)"><rect x="521.9" y="835.3" width="21" height="4.6" rx="2.3" fill="#858585"/><rect x="549.2" y="835.2" width="20" height="4.4" rx="2.2" fill="#8e8e8e"/><rect x="575.55" y="835.4" width="20.5" height="3.6" rx="1.8" fill="#cdcdcd"/><rect x="521.9" y="846.4" width="21" height="4.8" rx="2.4" fill="#7f7f7f"/><rect x="549.2" y="846.1" width="20" height="4.6" rx="2.3" fill="#737373"/><rect x="575.55" y="844.9" width="20.5" height="5" rx="2.5" fill="#555555"/></g>
<rect x="518.3" y="828.3" width="82.4" height="28.6" fill="none" stroke="#333" stroke-width="0.9"/>
<rect x="603" y="832.2" width="31.6" height="5.6" fill="#c8c8c8" stroke="#333" stroke-width="0.8"/>
<rect x="613.4" y="832.2" width="10.2" height="5.6" fill="#b44aae" stroke="#333" stroke-width="0.8"/>
<rect x="607.9" y="843.7" width="20.9" height="5.9" fill="#c8c8c8" stroke="#333" stroke-width="0.8"/>
<line x1="618.2" y1="843.7" x2="618.2" y2="849.6" stroke="#333" stroke-width="0.8"/>
<text x="639" y="838" font-size="9.4" fill="#111">220 bp</text>
<text x="639" y="849.7" font-size="9.4" fill="#111">163 bp</text>
<text x="468.9" y="848.2" font-size="10.35" fill="#111" font-style="italic">CLSTN1</text>
<text x="530.2" y="866.4" font-size="9.8" fill="#111" text-anchor="middle">51</text>
<text x="558.4" y="866.4" font-size="9.8" fill="#111" text-anchor="middle">44</text>
<text x="584.8" y="866.4" font-size="9.8" fill="#111" text-anchor="middle">21</text>
<text x="616" y="866.4" font-size="9.8" fill="#111" text-anchor="middle">PSI</text>
</svg>
</body></html>
